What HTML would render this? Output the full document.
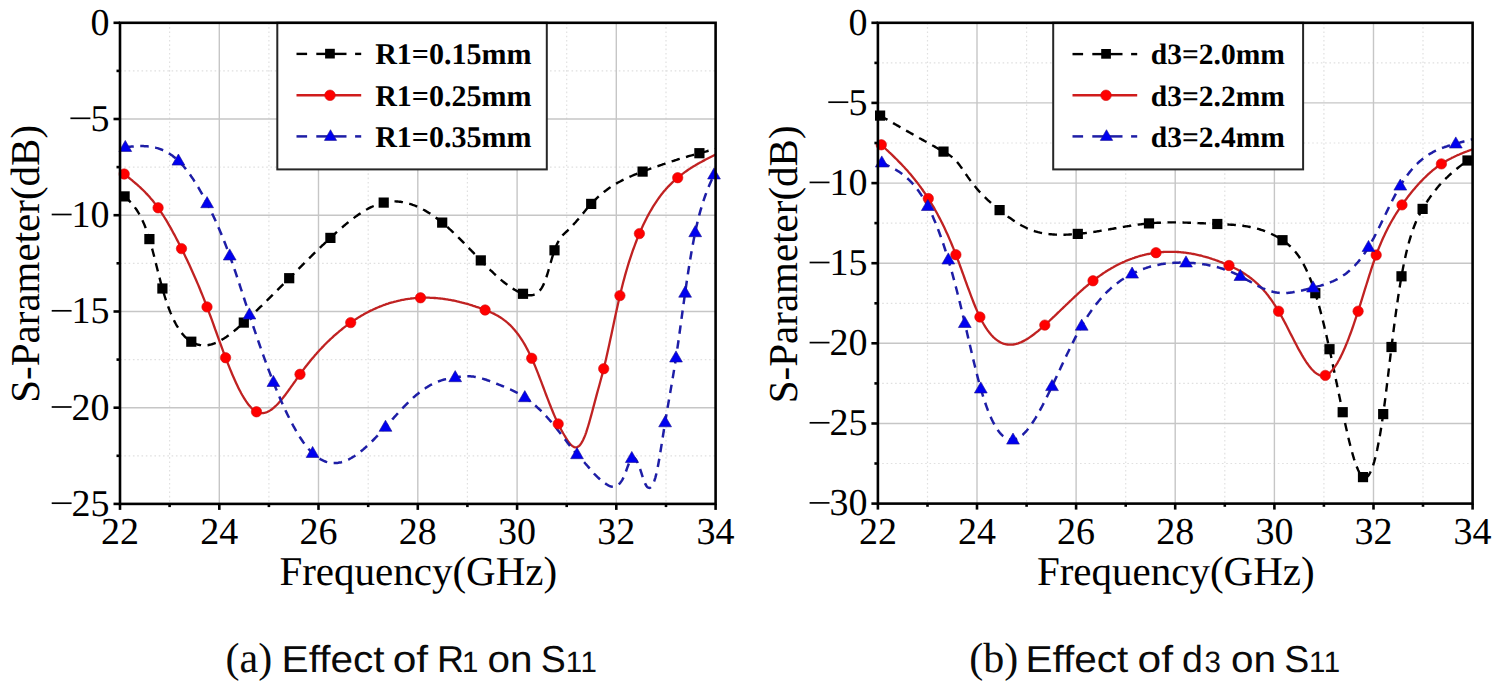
<!DOCTYPE html>
<html><head><meta charset="utf-8"><title>S11 parametric study</title>
<style>
html,body{margin:0;padding:0;background:#fff;}
body{width:1499px;height:691px;overflow:hidden;}
svg{display:block;}
.mg{stroke:#e0e0e0;stroke-width:1.2;stroke-dasharray:1.6 2.7;}
.Mg{stroke:#c6c6c6;stroke-width:1.4;}
.tk{stroke:#000;stroke-width:2.6;}
.mn{stroke:#000;stroke-width:1.7;}
.ck{fill:none;stroke:#000;stroke-width:2.4;stroke-dasharray:8.5 6.5;}
.cr2{fill:none;stroke:#c02222;stroke-width:2.3;}
.cb{fill:none;stroke:#1e1ea6;stroke-width:2.5;stroke-dasharray:8.5 6.5;}
.lk{stroke:#000;stroke-width:2.4;}
.lr{stroke:#d01c1c;stroke-width:2.4;}
.lb{stroke:#1e1ea6;stroke-width:2.5;}
text{font-family:"Liberation Serif",serif;fill:#000;text-rendering:geometricPrecision;}
.tl{font-size:38px;}
.at{font-size:41px;}
.lg{font-size:30px;font-weight:bold;}
.cap{font-family:"Liberation Sans",sans-serif;font-size:37.5px;letter-spacing:0.9px;fill:#0a0a0a;}
.cs{font-size:42px;fill:#0a0a0a;}
.sub{font-family:"Liberation Sans",sans-serif;font-size:29.5px;fill:#0a0a0a;}
.sub2{letter-spacing:0.6px;}
</style></head>
<body>
<svg width="1499" height="691" viewBox="0 0 1499 691">
<rect width="1499" height="691" fill="#fff"/>
<defs>
<clipPath id="cl"><rect x="120.0" y="22.8" width="595.6" height="481.1"/></clipPath>
<clipPath id="cr"><rect x="877.9" y="22.8" width="594.7" height="480.8"/></clipPath>
</defs>
<line x1="169.6" y1="22.8" x2="169.6" y2="503.9" class="mg"/>
<line x1="268.9" y1="22.8" x2="268.9" y2="503.9" class="mg"/>
<line x1="368.2" y1="22.8" x2="368.2" y2="503.9" class="mg"/>
<line x1="467.4" y1="22.8" x2="467.4" y2="503.9" class="mg"/>
<line x1="566.7" y1="22.8" x2="566.7" y2="503.9" class="mg"/>
<line x1="666.0" y1="22.8" x2="666.0" y2="503.9" class="mg"/>
<line x1="120.0" y1="70.9" x2="715.6" y2="70.9" class="mg"/>
<line x1="120.0" y1="167.1" x2="715.6" y2="167.1" class="mg"/>
<line x1="120.0" y1="263.3" x2="715.6" y2="263.3" class="mg"/>
<line x1="120.0" y1="359.6" x2="715.6" y2="359.6" class="mg"/>
<line x1="120.0" y1="455.8" x2="715.6" y2="455.8" class="mg"/>
<line x1="219.3" y1="22.8" x2="219.3" y2="503.9" class="Mg"/>
<line x1="318.5" y1="22.8" x2="318.5" y2="503.9" class="Mg"/>
<line x1="417.8" y1="22.8" x2="417.8" y2="503.9" class="Mg"/>
<line x1="517.1" y1="22.8" x2="517.1" y2="503.9" class="Mg"/>
<line x1="616.3" y1="22.8" x2="616.3" y2="503.9" class="Mg"/>
<line x1="120.0" y1="119.0" x2="715.6" y2="119.0" class="Mg"/>
<line x1="120.0" y1="215.2" x2="715.6" y2="215.2" class="Mg"/>
<line x1="120.0" y1="311.5" x2="715.6" y2="311.5" class="Mg"/>
<line x1="120.0" y1="407.7" x2="715.6" y2="407.7" class="Mg"/>
<line x1="927.5" y1="22.8" x2="927.5" y2="503.6" class="mg"/>
<line x1="1026.6" y1="22.8" x2="1026.6" y2="503.6" class="mg"/>
<line x1="1125.7" y1="22.8" x2="1125.7" y2="503.6" class="mg"/>
<line x1="1224.8" y1="22.8" x2="1224.8" y2="503.6" class="mg"/>
<line x1="1323.9" y1="22.8" x2="1323.9" y2="503.6" class="mg"/>
<line x1="1423.0" y1="22.8" x2="1423.0" y2="503.6" class="mg"/>
<line x1="877.9" y1="62.9" x2="1472.6" y2="62.9" class="mg"/>
<line x1="877.9" y1="143.0" x2="1472.6" y2="143.0" class="mg"/>
<line x1="877.9" y1="223.1" x2="1472.6" y2="223.1" class="mg"/>
<line x1="877.9" y1="303.3" x2="1472.6" y2="303.3" class="mg"/>
<line x1="877.9" y1="383.4" x2="1472.6" y2="383.4" class="mg"/>
<line x1="877.9" y1="463.5" x2="1472.6" y2="463.5" class="mg"/>
<line x1="977.0" y1="22.8" x2="977.0" y2="503.6" class="Mg"/>
<line x1="1076.1" y1="22.8" x2="1076.1" y2="503.6" class="Mg"/>
<line x1="1175.2" y1="22.8" x2="1175.2" y2="503.6" class="Mg"/>
<line x1="1274.4" y1="22.8" x2="1274.4" y2="503.6" class="Mg"/>
<line x1="1373.5" y1="22.8" x2="1373.5" y2="503.6" class="Mg"/>
<line x1="877.9" y1="102.9" x2="1472.6" y2="102.9" class="Mg"/>
<line x1="877.9" y1="183.1" x2="1472.6" y2="183.1" class="Mg"/>
<line x1="877.9" y1="263.2" x2="1472.6" y2="263.2" class="Mg"/>
<line x1="877.9" y1="343.3" x2="1472.6" y2="343.3" class="Mg"/>
<line x1="877.9" y1="423.5" x2="1472.6" y2="423.5" class="Mg"/>
<rect x="277.3" y="22.8" width="269.49999999999994" height="146.6" fill="#fff" stroke="#262626" stroke-width="2"/>
<line x1="296.5" y1="53.9" x2="307.1" y2="53.9" class="lk"/>
<line x1="316.3" y1="53.9" x2="346.5" y2="53.9" class="lk"/>
<line x1="355.1" y1="53.9" x2="361.2" y2="53.9" class="lk"/>
<rect x="325.1" y="48.8" width="9.7" height="9.7" fill="#000"/>
<line x1="296.5" y1="95.3" x2="361.2" y2="95.3" class="lr"/>
<circle cx="330.0" cy="95.3" r="5.3" fill="#f00" stroke="#d01010" stroke-width="0.6"/>
<line x1="296.5" y1="136.4" x2="307.1" y2="136.4" class="lb"/>
<line x1="316.3" y1="136.4" x2="346.5" y2="136.4" class="lb"/>
<line x1="355.1" y1="136.4" x2="361.2" y2="136.4" class="lb"/>
<path d="M330.5 129.7 L336.6 140.4 L324.4 140.4 Z" fill="#0000f0" stroke="#1a1090" stroke-width="0.6" stroke-linejoin="round"/>
<text x="375.2" y="64.2" class="lg" style="font-size:30px">R1=0.15mm</text>
<text x="375.2" y="105.6" class="lg" style="font-size:30px">R1=0.25mm</text>
<text x="375.2" y="146.7" class="lg" style="font-size:30px">R1=0.35mm</text>
<rect x="1053.2" y="22.8" width="249.89999999999986" height="146.6" fill="#fff" stroke="#262626" stroke-width="2"/>
<line x1="1072.5" y1="54.1" x2="1083.1" y2="54.1" class="lk"/>
<line x1="1092.3" y1="54.1" x2="1122.5" y2="54.1" class="lk"/>
<line x1="1131.1" y1="54.1" x2="1137.2" y2="54.1" class="lk"/>
<rect x="1101.2" y="49.0" width="9.7" height="9.7" fill="#000"/>
<line x1="1072.5" y1="95.3" x2="1137.2" y2="95.3" class="lr"/>
<circle cx="1106.0" cy="95.3" r="5.3" fill="#f00" stroke="#d01010" stroke-width="0.6"/>
<line x1="1072.5" y1="136.4" x2="1083.1" y2="136.4" class="lb"/>
<line x1="1092.3" y1="136.4" x2="1122.5" y2="136.4" class="lb"/>
<line x1="1131.1" y1="136.4" x2="1137.2" y2="136.4" class="lb"/>
<path d="M1106.5 129.7 L1112.7 140.4 L1100.3 140.4 Z" fill="#0000f0" stroke="#1a1090" stroke-width="0.6" stroke-linejoin="round"/>
<text x="1150.8" y="64.4" class="lg" style="font-size:29.5px">d3=2.0mm</text>
<text x="1150.8" y="105.6" class="lg" style="font-size:29.5px">d3=2.2mm</text>
<text x="1150.8" y="146.7" class="lg" style="font-size:29.5px">d3=2.4mm</text>
<path d="M124.6 196.4 L125.6 197.3 L126.6 198.3 L127.6 199.2 L128.6 200.2 L129.6 201.2 L130.6 202.3 L131.6 203.4 L132.6 204.5 L133.6 205.7 L134.6 207.0 L135.6 208.4 L136.6 209.8 L137.6 211.3 L138.6 213.0 L139.6 214.7 L140.6 216.6 L141.6 218.6 L142.6 220.7 L143.6 222.9 L144.6 225.3 L145.6 227.9 L146.6 230.6 L147.6 233.5 L148.6 236.5 L149.6 239.8 L150.6 243.2 L151.6 246.8 L152.6 250.5 L153.6 254.3 L154.6 258.2 L155.6 262.2 L156.6 266.2 L157.6 270.2 L158.6 274.1 L159.6 278.0 L160.6 281.9 L161.6 285.6 L162.6 289.2 L163.6 292.7 L164.6 296.0 L165.6 299.1 L166.6 302.1 L167.6 305.0 L168.6 307.8 L169.6 310.4 L170.6 312.9 L171.6 315.2 L172.6 317.5 L173.6 319.6 L174.6 321.6 L175.6 323.5 L176.6 325.3 L177.6 327.0 L178.6 328.6 L179.6 330.1 L180.6 331.5 L181.6 332.9 L182.6 334.1 L183.6 335.2 L184.6 336.3 L185.6 337.3 L186.6 338.2 L187.6 339.1 L188.6 339.9 L189.6 340.6 L190.6 341.3 L191.6 341.9 L192.6 342.4 L193.6 342.9 L194.6 343.4 L195.6 343.8 L196.6 344.2 L197.6 344.5 L198.6 344.7 L199.6 345.0 L200.6 345.1 L201.6 345.3 L202.6 345.3 L203.6 345.4 L204.6 345.4 L205.6 345.4 L206.6 345.3 L207.6 345.2 L208.6 345.0 L209.6 344.8 L210.6 344.6 L211.6 344.3 L212.6 344.0 L213.6 343.7 L214.6 343.3 L215.6 342.9 L216.6 342.5 L217.6 342.0 L218.6 341.6 L219.6 341.0 L220.6 340.5 L221.6 339.9 L222.6 339.3 L223.6 338.7 L224.6 338.1 L225.6 337.4 L226.6 336.8 L227.6 336.1 L228.6 335.3 L229.6 334.6 L230.6 333.8 L231.6 333.1 L232.6 332.3 L233.6 331.5 L234.6 330.6 L235.6 329.8 L236.6 329.0 L237.6 328.1 L238.6 327.2 L239.6 326.4 L240.6 325.5 L241.6 324.6 L242.6 323.7 L243.6 322.8 L244.6 321.9 L245.6 321.0 L246.6 320.0 L247.6 319.1 L248.6 318.2 L249.6 317.3 L250.6 316.3 L251.6 315.4 L252.6 314.4 L253.6 313.5 L254.6 312.5 L255.6 311.6 L256.6 310.6 L257.6 309.7 L258.6 308.7 L259.6 307.7 L260.6 306.7 L261.6 305.8 L262.6 304.8 L263.6 303.8 L264.6 302.8 L265.6 301.9 L266.6 300.9 L267.6 299.9 L268.6 298.9 L269.6 297.9 L270.6 296.9 L271.6 295.9 L272.6 294.9 L273.6 293.9 L274.6 292.9 L275.6 291.9 L276.6 290.9 L277.6 289.9 L278.6 288.9 L279.6 287.9 L280.6 286.9 L281.6 285.9 L282.6 284.9 L283.6 283.8 L284.6 282.8 L285.6 281.8 L286.6 280.8 L287.6 279.8 L288.6 278.8 L289.6 277.8 L290.6 276.8 L291.6 275.8 L292.6 274.8 L293.6 273.8 L294.6 272.8 L295.6 271.8 L296.6 270.8 L297.6 269.8 L298.6 268.8 L299.6 267.8 L300.6 266.8 L301.6 265.8 L302.6 264.8 L303.6 263.8 L304.6 262.8 L305.6 261.8 L306.6 260.8 L307.6 259.8 L308.6 258.8 L309.6 257.8 L310.6 256.8 L311.6 255.9 L312.6 254.9 L313.6 253.9 L314.6 252.9 L315.6 252.0 L316.6 251.0 L317.6 250.0 L318.6 249.1 L319.6 248.1 L320.6 247.1 L321.6 246.2 L322.6 245.2 L323.6 244.3 L324.6 243.3 L325.6 242.4 L326.6 241.4 L327.6 240.5 L328.6 239.6 L329.6 238.6 L330.6 237.7 L331.6 236.8 L332.6 235.9 L333.6 235.0 L334.6 234.0 L335.6 233.1 L336.6 232.2 L337.6 231.3 L338.6 230.5 L339.6 229.6 L340.6 228.7 L341.6 227.8 L342.6 227.0 L343.6 226.1 L344.6 225.3 L345.6 224.4 L346.6 223.6 L347.6 222.8 L348.6 222.0 L349.6 221.2 L350.6 220.4 L351.6 219.6 L352.6 218.9 L353.6 218.1 L354.6 217.4 L355.6 216.6 L356.6 215.9 L357.6 215.2 L358.6 214.5 L359.6 213.9 L360.6 213.2 L361.6 212.5 L362.6 211.9 L363.6 211.3 L364.6 210.7 L365.6 210.1 L366.6 209.5 L367.6 209.0 L368.6 208.4 L369.6 207.9 L370.6 207.4 L371.6 206.9 L372.6 206.5 L373.6 206.0 L374.6 205.6 L375.6 205.2 L376.6 204.8 L377.6 204.4 L378.6 204.1 L379.6 203.7 L380.6 203.4 L381.6 203.1 L382.6 202.9 L383.6 202.6 L384.6 202.4 L385.6 202.2 L386.6 202.0 L387.6 201.9 L388.6 201.7 L389.6 201.6 L390.6 201.5 L391.6 201.5 L392.6 201.4 L393.6 201.4 L394.6 201.4 L395.6 201.4 L396.6 201.5 L397.6 201.5 L398.6 201.6 L399.6 201.7 L400.6 201.8 L401.6 202.0 L402.6 202.1 L403.6 202.3 L404.6 202.5 L405.6 202.7 L406.6 203.0 L407.6 203.2 L408.6 203.5 L409.6 203.8 L410.6 204.1 L411.6 204.4 L412.6 204.8 L413.6 205.1 L414.6 205.5 L415.6 205.9 L416.6 206.3 L417.6 206.8 L418.6 207.2 L419.6 207.7 L420.6 208.2 L421.6 208.7 L422.6 209.2 L423.6 209.8 L424.6 210.3 L425.6 210.9 L426.6 211.5 L427.6 212.1 L428.6 212.7 L429.6 213.3 L430.6 214.0 L431.6 214.7 L432.6 215.3 L433.6 216.0 L434.6 216.7 L435.6 217.5 L436.6 218.2 L437.6 219.0 L438.6 219.7 L439.6 220.5 L440.6 221.3 L441.6 222.1 L442.6 222.9 L443.6 223.8 L444.6 224.6 L445.6 225.5 L446.6 226.3 L447.6 227.2 L448.6 228.1 L449.6 229.0 L450.6 230.0 L451.6 230.9 L452.6 231.8 L453.6 232.8 L454.6 233.7 L455.6 234.7 L456.6 235.6 L457.6 236.6 L458.6 237.6 L459.6 238.6 L460.6 239.6 L461.6 240.6 L462.6 241.6 L463.6 242.6 L464.6 243.6 L465.6 244.7 L466.6 245.7 L467.6 246.7 L468.6 247.7 L469.6 248.8 L470.6 249.8 L471.6 250.9 L472.6 251.9 L473.6 252.9 L474.6 254.0 L475.6 255.0 L476.6 256.1 L477.6 257.1 L478.6 258.1 L479.6 259.2 L480.6 260.2 L481.6 261.2 L482.6 262.3 L483.6 263.3 L484.6 264.3 L485.6 265.3 L486.6 266.3 L487.6 267.3 L488.6 268.3 L489.6 269.3 L490.6 270.3 L491.6 271.2 L492.6 272.2 L493.6 273.2 L494.6 274.1 L495.6 275.0 L496.6 275.9 L497.6 276.8 L498.6 277.7 L499.6 278.6 L500.6 279.5 L501.6 280.3 L502.6 281.2 L503.6 282.0 L504.6 282.8 L505.6 283.6 L506.6 284.3 L507.6 285.1 L508.6 285.8 L509.6 286.5 L510.6 287.2 L511.6 287.9 L512.6 288.5 L513.6 289.1 L514.6 289.7 L515.6 290.3 L516.6 290.9 L517.6 291.4 L518.6 291.9 L519.6 292.4 L520.6 292.8 L521.6 293.3 L522.6 293.6 L523.6 294.0 L524.6 294.4 L525.6 294.6 L526.6 294.9 L527.6 295.1 L528.6 295.2 L529.6 295.3 L530.6 295.3 L531.6 295.2 L532.6 295.1 L533.6 294.8 L534.6 294.5 L535.6 294.0 L536.6 293.4 L537.6 292.7 L538.6 291.9 L539.6 290.8 L540.6 289.6 L541.6 288.1 L542.6 286.4 L543.6 284.4 L544.6 282.1 L545.6 279.5 L546.6 276.5 L547.6 273.3 L548.6 270.0 L549.6 266.5 L550.6 263.0 L551.6 259.5 L552.6 256.2 L553.6 253.0 L554.6 250.0 L555.6 247.4 L556.6 245.0 L557.6 242.9 L558.6 241.1 L559.6 239.4 L560.6 237.9 L561.6 236.6 L562.6 235.4 L563.6 234.3 L564.6 233.3 L565.6 232.4 L566.6 231.5 L567.6 230.6 L568.6 229.6 L569.6 228.6 L570.6 227.6 L571.6 226.6 L572.6 225.5 L573.6 224.4 L574.6 223.3 L575.6 222.2 L576.6 221.0 L577.6 219.9 L578.6 218.7 L579.6 217.5 L580.6 216.3 L581.6 215.1 L582.6 213.9 L583.6 212.7 L584.6 211.5 L585.6 210.3 L586.6 209.1 L587.6 207.9 L588.6 206.8 L589.6 205.7 L590.6 204.6 L591.6 203.5 L592.6 202.4 L593.6 201.4 L594.6 200.4 L595.6 199.4 L596.6 198.4 L597.6 197.5 L598.6 196.5 L599.6 195.7 L600.6 194.8 L601.6 193.9 L602.6 193.1 L603.6 192.3 L604.6 191.5 L605.6 190.7 L606.6 190.0 L607.6 189.2 L608.6 188.5 L609.6 187.8 L610.6 187.1 L611.6 186.5 L612.6 185.8 L613.6 185.2 L614.6 184.6 L615.6 184.0 L616.6 183.4 L617.6 182.8 L618.6 182.2 L619.6 181.7 L620.6 181.2 L621.6 180.6 L622.6 180.1 L623.6 179.6 L624.6 179.1 L625.6 178.7 L626.6 178.2 L627.6 177.7 L628.6 177.3 L629.6 176.8 L630.6 176.4 L631.6 176.0 L632.6 175.5 L633.6 175.1 L634.6 174.7 L635.6 174.3 L636.6 173.9 L637.6 173.5 L638.6 173.1 L639.6 172.7 L640.6 172.4 L641.6 172.0 L642.6 171.6 L643.6 171.2 L644.6 170.8 L645.6 170.5 L646.6 170.1 L647.6 169.7 L648.6 169.4 L649.6 169.0 L650.6 168.6 L651.6 168.3 L652.6 167.9 L653.6 167.6 L654.6 167.2 L655.6 166.9 L656.6 166.5 L657.6 166.2 L658.6 165.8 L659.6 165.5 L660.6 165.1 L661.6 164.8 L662.6 164.4 L663.6 164.1 L664.6 163.8 L665.6 163.4 L666.6 163.1 L667.6 162.8 L668.6 162.4 L669.6 162.1 L670.6 161.8 L671.6 161.4 L672.6 161.1 L673.6 160.8 L674.6 160.5 L675.6 160.2 L676.6 159.9 L677.6 159.5 L678.6 159.2 L679.6 158.9 L680.6 158.6 L681.6 158.3 L682.6 158.0 L683.6 157.7 L684.6 157.4 L685.6 157.1 L686.6 156.8 L687.6 156.5 L688.6 156.2 L689.6 155.9 L690.6 155.6 L691.6 155.4 L692.6 155.1 L693.6 154.8 L694.6 154.5 L695.6 154.2 L696.6 154.0 L697.6 153.7 L698.6 153.4 L699.6 153.1 L700.6 152.9 L701.6 152.6 L702.6 152.3 L703.6 152.1 L704.6 151.8 L705.6 151.6 L706.6 151.3 L707.6 151.0 L708.6 150.8 L709.6 150.5 L710.6 150.3 L711.6 150.0 L712.6 149.8 L713.6 149.5 L714.6 149.3 L715.6 149.0" class="ck" clip-path="url(#cl)"/>
<path d="M124.2 174.0 L125.2 174.8 L126.2 175.6 L127.2 176.4 L128.2 177.2 L129.2 178.0 L130.2 178.8 L131.2 179.6 L132.2 180.4 L133.2 181.3 L134.2 182.1 L135.2 183.0 L136.2 183.8 L137.2 184.7 L138.2 185.6 L139.2 186.5 L140.2 187.4 L141.2 188.4 L142.2 189.3 L143.2 190.3 L144.2 191.3 L145.2 192.3 L146.2 193.4 L147.2 194.4 L148.2 195.5 L149.2 196.6 L150.2 197.8 L151.2 198.9 L152.2 200.1 L153.2 201.3 L154.2 202.6 L155.2 203.9 L156.2 205.2 L157.2 206.6 L158.2 207.9 L159.2 209.4 L160.2 210.8 L161.2 212.3 L162.2 213.8 L163.2 215.4 L164.2 217.0 L165.2 218.6 L166.2 220.2 L167.2 221.9 L168.2 223.6 L169.2 225.4 L170.2 227.1 L171.2 228.9 L172.2 230.7 L173.2 232.6 L174.2 234.4 L175.2 236.3 L176.2 238.2 L177.2 240.1 L178.2 242.1 L179.2 244.0 L180.2 246.0 L181.2 248.0 L182.2 250.0 L183.2 252.0 L184.2 254.1 L185.2 256.2 L186.2 258.2 L187.2 260.3 L188.2 262.5 L189.2 264.6 L190.2 266.8 L191.2 269.0 L192.2 271.2 L193.2 273.4 L194.2 275.7 L195.2 277.9 L196.2 280.2 L197.2 282.6 L198.2 284.9 L199.2 287.3 L200.2 289.7 L201.2 292.2 L202.2 294.6 L203.2 297.1 L204.2 299.7 L205.2 302.2 L206.2 304.8 L207.2 307.4 L208.2 310.1 L209.2 312.8 L210.2 315.5 L211.2 318.2 L212.2 320.9 L213.2 323.7 L214.2 326.5 L215.2 329.3 L216.2 332.0 L217.2 334.8 L218.2 337.6 L219.2 340.4 L220.2 343.1 L221.2 345.9 L222.2 348.6 L223.2 351.3 L224.2 354.0 L225.2 356.6 L226.2 359.3 L227.2 361.9 L228.2 364.4 L229.2 366.9 L230.2 369.4 L231.2 371.8 L232.2 374.2 L233.2 376.5 L234.2 378.8 L235.2 381.0 L236.2 383.2 L237.2 385.3 L238.2 387.4 L239.2 389.4 L240.2 391.3 L241.2 393.2 L242.2 395.0 L243.2 396.7 L244.2 398.3 L245.2 399.9 L246.2 401.4 L247.2 402.8 L248.2 404.2 L249.2 405.4 L250.2 406.6 L251.2 407.7 L252.2 408.7 L253.2 409.5 L254.2 410.3 L255.2 411.0 L256.2 411.6 L257.2 412.1 L258.2 412.5 L259.2 412.8 L260.2 413.0 L261.2 413.1 L262.2 413.2 L263.2 413.1 L264.2 412.9 L265.2 412.7 L266.2 412.4 L267.2 412.0 L268.2 411.5 L269.2 411.0 L270.2 410.4 L271.2 409.7 L272.2 409.0 L273.2 408.2 L274.2 407.3 L275.2 406.4 L276.2 405.5 L277.2 404.5 L278.2 403.4 L279.2 402.3 L280.2 401.2 L281.2 400.0 L282.2 398.8 L283.2 397.6 L284.2 396.3 L285.2 395.0 L286.2 393.6 L287.2 392.3 L288.2 390.9 L289.2 389.5 L290.2 388.2 L291.2 386.7 L292.2 385.3 L293.2 383.9 L294.2 382.5 L295.2 381.1 L296.2 379.6 L297.2 378.2 L298.2 376.8 L299.2 375.4 L300.2 374.0 L301.2 372.7 L302.2 371.3 L303.2 370.0 L304.2 368.6 L305.2 367.3 L306.2 366.0 L307.2 364.8 L308.2 363.5 L309.2 362.3 L310.2 361.0 L311.2 359.8 L312.2 358.6 L313.2 357.4 L314.2 356.3 L315.2 355.1 L316.2 354.0 L317.2 352.8 L318.2 351.7 L319.2 350.6 L320.2 349.5 L321.2 348.5 L322.2 347.4 L323.2 346.4 L324.2 345.3 L325.2 344.3 L326.2 343.3 L327.2 342.3 L328.2 341.3 L329.2 340.4 L330.2 339.4 L331.2 338.5 L332.2 337.6 L333.2 336.6 L334.2 335.7 L335.2 334.8 L336.2 334.0 L337.2 333.1 L338.2 332.3 L339.2 331.4 L340.2 330.6 L341.2 329.8 L342.2 329.0 L343.2 328.2 L344.2 327.4 L345.2 326.6 L346.2 325.9 L347.2 325.1 L348.2 324.4 L349.2 323.7 L350.2 323.0 L351.2 322.3 L352.2 321.6 L353.2 320.9 L354.2 320.2 L355.2 319.6 L356.2 318.9 L357.2 318.3 L358.2 317.6 L359.2 317.0 L360.2 316.4 L361.2 315.8 L362.2 315.2 L363.2 314.7 L364.2 314.1 L365.2 313.5 L366.2 313.0 L367.2 312.5 L368.2 311.9 L369.2 311.4 L370.2 310.9 L371.2 310.4 L372.2 310.0 L373.2 309.5 L374.2 309.0 L375.2 308.6 L376.2 308.1 L377.2 307.7 L378.2 307.3 L379.2 306.9 L380.2 306.4 L381.2 306.1 L382.2 305.7 L383.2 305.3 L384.2 304.9 L385.2 304.6 L386.2 304.2 L387.2 303.9 L388.2 303.6 L389.2 303.2 L390.2 302.9 L391.2 302.6 L392.2 302.3 L393.2 302.1 L394.2 301.8 L395.2 301.5 L396.2 301.3 L397.2 301.0 L398.2 300.8 L399.2 300.6 L400.2 300.4 L401.2 300.1 L402.2 299.9 L403.2 299.8 L404.2 299.6 L405.2 299.4 L406.2 299.2 L407.2 299.1 L408.2 298.9 L409.2 298.8 L410.2 298.7 L411.2 298.5 L412.2 298.4 L413.2 298.3 L414.2 298.2 L415.2 298.1 L416.2 298.1 L417.2 298.0 L418.2 297.9 L419.2 297.9 L420.2 297.8 L421.2 297.8 L422.2 297.7 L423.2 297.7 L424.2 297.7 L425.2 297.7 L426.2 297.7 L427.2 297.7 L428.2 297.7 L429.2 297.7 L430.2 297.8 L431.2 297.8 L432.2 297.9 L433.2 297.9 L434.2 298.0 L435.2 298.0 L436.2 298.1 L437.2 298.2 L438.2 298.3 L439.2 298.4 L440.2 298.5 L441.2 298.6 L442.2 298.7 L443.2 298.9 L444.2 299.0 L445.2 299.1 L446.2 299.3 L447.2 299.4 L448.2 299.6 L449.2 299.8 L450.2 299.9 L451.2 300.1 L452.2 300.3 L453.2 300.5 L454.2 300.7 L455.2 300.9 L456.2 301.1 L457.2 301.4 L458.2 301.6 L459.2 301.8 L460.2 302.1 L461.2 302.3 L462.2 302.6 L463.2 302.8 L464.2 303.1 L465.2 303.4 L466.2 303.6 L467.2 303.9 L468.2 304.2 L469.2 304.5 L470.2 304.8 L471.2 305.1 L472.2 305.4 L473.2 305.8 L474.2 306.1 L475.2 306.4 L476.2 306.8 L477.2 307.1 L478.2 307.4 L479.2 307.8 L480.2 308.2 L481.2 308.5 L482.2 308.9 L483.2 309.3 L484.2 309.7 L485.2 310.0 L486.2 310.4 L487.2 310.8 L488.2 311.2 L489.2 311.7 L490.2 312.1 L491.2 312.5 L492.2 313.0 L493.2 313.4 L494.2 313.9 L495.2 314.4 L496.2 315.0 L497.2 315.5 L498.2 316.1 L499.2 316.7 L500.2 317.3 L501.2 317.9 L502.2 318.6 L503.2 319.3 L504.2 320.1 L505.2 320.8 L506.2 321.6 L507.2 322.5 L508.2 323.4 L509.2 324.3 L510.2 325.2 L511.2 326.2 L512.2 327.3 L513.2 328.4 L514.2 329.5 L515.2 330.7 L516.2 331.9 L517.2 333.2 L518.2 334.5 L519.2 335.9 L520.2 337.3 L521.2 338.8 L522.2 340.4 L523.2 342.0 L524.2 343.7 L525.2 345.4 L526.2 347.2 L527.2 349.1 L528.2 351.0 L529.2 353.0 L530.2 355.1 L531.2 357.2 L532.2 359.4 L533.2 361.7 L534.2 364.0 L535.2 366.4 L536.2 368.9 L537.2 371.4 L538.2 373.9 L539.2 376.5 L540.2 379.1 L541.2 381.7 L542.2 384.4 L543.2 387.0 L544.2 389.7 L545.2 392.3 L546.2 395.0 L547.2 397.6 L548.2 400.2 L549.2 402.8 L550.2 405.3 L551.2 407.9 L552.2 410.3 L553.2 412.7 L554.2 415.1 L555.2 417.4 L556.2 419.7 L557.2 421.8 L558.2 423.9 L559.2 425.9 L560.2 427.8 L561.2 429.7 L562.2 431.5 L563.2 433.3 L564.2 435.0 L565.2 436.7 L566.2 438.3 L567.2 439.9 L568.2 441.4 L569.2 442.7 L570.2 443.9 L571.2 445.0 L572.2 445.9 L573.2 446.6 L574.2 447.1 L575.2 447.4 L576.2 447.4 L577.2 447.1 L578.2 446.6 L579.2 445.8 L580.2 444.7 L581.2 443.4 L582.2 441.7 L583.2 439.8 L584.2 437.6 L585.2 435.1 L586.2 432.3 L587.2 429.2 L588.2 426.0 L589.2 422.6 L590.2 419.0 L591.2 415.4 L592.2 411.7 L593.2 407.9 L594.2 404.1 L595.2 400.4 L596.2 396.6 L597.2 392.9 L598.2 389.3 L599.2 385.7 L600.2 382.0 L601.2 378.3 L602.2 374.6 L603.2 370.7 L604.2 366.7 L605.2 362.5 L606.2 358.2 L607.2 353.8 L608.2 349.3 L609.2 344.7 L610.2 340.1 L611.2 335.4 L612.2 330.7 L613.2 326.0 L614.2 321.3 L615.2 316.6 L616.2 312.0 L617.2 307.4 L618.2 303.0 L619.2 298.6 L620.2 294.3 L621.2 290.2 L622.2 286.2 L623.2 282.3 L624.2 278.6 L625.2 274.9 L626.2 271.4 L627.2 268.0 L628.2 264.7 L629.2 261.4 L630.2 258.3 L631.2 255.3 L632.2 252.4 L633.2 249.5 L634.2 246.8 L635.2 244.1 L636.2 241.5 L637.2 238.9 L638.2 236.5 L639.2 234.1 L640.2 231.7 L641.2 229.5 L642.2 227.2 L643.2 225.1 L644.2 223.0 L645.2 220.9 L646.2 218.9 L647.2 217.0 L648.2 215.1 L649.2 213.3 L650.2 211.5 L651.2 209.8 L652.2 208.1 L653.2 206.4 L654.2 204.8 L655.2 203.3 L656.2 201.8 L657.2 200.3 L658.2 198.9 L659.2 197.5 L660.2 196.1 L661.2 194.8 L662.2 193.6 L663.2 192.3 L664.2 191.1 L665.2 190.0 L666.2 188.8 L667.2 187.7 L668.2 186.6 L669.2 185.6 L670.2 184.6 L671.2 183.6 L672.2 182.6 L673.2 181.7 L674.2 180.8 L675.2 179.9 L676.2 179.0 L677.2 178.1 L678.2 177.3 L679.2 176.5 L680.2 175.7 L681.2 174.9 L682.2 174.1 L683.2 173.4 L684.2 172.6 L685.2 171.9 L686.2 171.2 L687.2 170.5 L688.2 169.8 L689.2 169.1 L690.2 168.5 L691.2 167.8 L692.2 167.2 L693.2 166.6 L694.2 166.0 L695.2 165.4 L696.2 164.8 L697.2 164.2 L698.2 163.6 L699.2 163.1 L700.2 162.5 L701.2 162.0 L702.2 161.4 L703.2 160.9 L704.2 160.4 L705.2 159.8 L706.2 159.3 L707.2 158.8 L708.2 158.3 L709.2 157.8 L710.2 157.3 L711.2 156.8 L712.2 156.3 L713.2 155.8 L714.2 155.3 L715.2 154.8 L715.6 154.6" class="cr2" clip-path="url(#cl)"/>
<path d="M125.3 147.2 L126.3 147.1 L127.3 147.0 L128.3 146.9 L129.3 146.8 L130.3 146.7 L131.3 146.6 L132.3 146.5 L133.3 146.5 L134.3 146.4 L135.3 146.3 L136.3 146.3 L137.3 146.2 L138.3 146.2 L139.3 146.1 L140.3 146.1 L141.3 146.1 L142.3 146.1 L143.3 146.1 L144.3 146.2 L145.3 146.2 L146.3 146.3 L147.3 146.3 L148.3 146.4 L149.3 146.5 L150.3 146.7 L151.3 146.8 L152.3 147.0 L153.3 147.2 L154.3 147.4 L155.3 147.6 L156.3 147.9 L157.3 148.1 L158.3 148.4 L159.3 148.8 L160.3 149.1 L161.3 149.5 L162.3 149.9 L163.3 150.3 L164.3 150.8 L165.3 151.3 L166.3 151.8 L167.3 152.4 L168.3 152.9 L169.3 153.6 L170.3 154.2 L171.3 154.9 L172.3 155.6 L173.3 156.4 L174.3 157.2 L175.3 158.0 L176.3 158.9 L177.3 159.8 L178.3 160.7 L179.3 161.7 L180.3 162.7 L181.3 163.8 L182.3 164.9 L183.3 166.0 L184.3 167.2 L185.3 168.4 L186.3 169.7 L187.3 171.0 L188.3 172.3 L189.3 173.6 L190.3 175.0 L191.3 176.5 L192.3 177.9 L193.3 179.4 L194.3 181.0 L195.3 182.5 L196.3 184.1 L197.3 185.8 L198.3 187.4 L199.3 189.1 L200.3 190.9 L201.3 192.6 L202.3 194.4 L203.3 196.2 L204.3 198.1 L205.3 200.0 L206.3 201.9 L207.3 203.8 L208.3 205.7 L209.3 207.7 L210.3 209.8 L211.3 211.8 L212.3 213.9 L213.3 216.0 L214.3 218.1 L215.3 220.3 L216.3 222.5 L217.3 224.8 L218.3 227.0 L219.3 229.3 L220.3 231.7 L221.3 234.1 L222.3 236.5 L223.3 239.0 L224.3 241.5 L225.3 244.0 L226.3 246.6 L227.3 249.2 L228.3 251.9 L229.3 254.6 L230.3 257.4 L231.3 260.2 L232.3 263.0 L233.3 265.9 L234.3 268.8 L235.3 271.7 L236.3 274.7 L237.3 277.7 L238.3 280.7 L239.3 283.7 L240.3 286.8 L241.3 289.8 L242.3 292.9 L243.3 296.0 L244.3 299.0 L245.3 302.1 L246.3 305.2 L247.3 308.3 L248.3 311.3 L249.3 314.4 L250.3 317.4 L251.3 320.5 L252.3 323.5 L253.3 326.5 L254.3 329.4 L255.3 332.4 L256.3 335.3 L257.3 338.3 L258.3 341.2 L259.3 344.0 L260.3 346.9 L261.3 349.7 L262.3 352.6 L263.3 355.4 L264.3 358.1 L265.3 360.9 L266.3 363.6 L267.3 366.3 L268.3 369.0 L269.3 371.6 L270.3 374.2 L271.3 376.8 L272.3 379.4 L273.3 381.9 L274.3 384.5 L275.3 386.9 L276.3 389.4 L277.3 391.8 L278.3 394.2 L279.3 396.6 L280.3 398.9 L281.3 401.2 L282.3 403.4 L283.3 405.6 L284.3 407.8 L285.3 410.0 L286.3 412.1 L287.3 414.2 L288.3 416.2 L289.3 418.2 L290.3 420.2 L291.3 422.2 L292.3 424.0 L293.3 425.9 L294.3 427.7 L295.3 429.5 L296.3 431.2 L297.3 432.9 L298.3 434.6 L299.3 436.2 L300.3 437.7 L301.3 439.2 L302.3 440.7 L303.3 442.2 L304.3 443.5 L305.3 444.9 L306.3 446.2 L307.3 447.4 L308.3 448.6 L309.3 449.8 L310.3 450.9 L311.3 451.9 L312.3 452.9 L313.3 453.9 L314.3 454.8 L315.3 455.6 L316.3 456.4 L317.3 457.2 L318.3 457.9 L319.3 458.5 L320.3 459.1 L321.3 459.7 L322.3 460.2 L323.3 460.7 L324.3 461.1 L325.3 461.5 L326.3 461.9 L327.3 462.2 L328.3 462.4 L329.3 462.6 L330.3 462.8 L331.3 462.9 L332.3 463.0 L333.3 463.1 L334.3 463.1 L335.3 463.1 L336.3 463.0 L337.3 462.9 L338.3 462.8 L339.3 462.6 L340.3 462.4 L341.3 462.2 L342.3 461.9 L343.3 461.6 L344.3 461.2 L345.3 460.9 L346.3 460.5 L347.3 460.0 L348.3 459.6 L349.3 459.1 L350.3 458.5 L351.3 458.0 L352.3 457.4 L353.3 456.8 L354.3 456.2 L355.3 455.5 L356.3 454.8 L357.3 454.1 L358.3 453.4 L359.3 452.6 L360.3 451.8 L361.3 451.0 L362.3 450.2 L363.3 449.4 L364.3 448.5 L365.3 447.6 L366.3 446.7 L367.3 445.8 L368.3 444.9 L369.3 443.9 L370.3 443.0 L371.3 442.0 L372.3 441.0 L373.3 440.0 L374.3 439.0 L375.3 438.0 L376.3 436.9 L377.3 435.9 L378.3 434.8 L379.3 433.8 L380.3 432.7 L381.3 431.6 L382.3 430.5 L383.3 429.4 L384.3 428.3 L385.3 427.2 L386.3 426.1 L387.3 425.0 L388.3 423.9 L389.3 422.8 L390.3 421.7 L391.3 420.5 L392.3 419.4 L393.3 418.3 L394.3 417.2 L395.3 416.1 L396.3 415.0 L397.3 413.9 L398.3 412.8 L399.3 411.7 L400.3 410.6 L401.3 409.6 L402.3 408.5 L403.3 407.5 L404.3 406.4 L405.3 405.4 L406.3 404.4 L407.3 403.4 L408.3 402.4 L409.3 401.4 L410.3 400.4 L411.3 399.5 L412.3 398.6 L413.3 397.6 L414.3 396.8 L415.3 395.9 L416.3 395.0 L417.3 394.2 L418.3 393.4 L419.3 392.6 L420.3 391.8 L421.3 391.1 L422.3 390.3 L423.3 389.6 L424.3 388.9 L425.3 388.3 L426.3 387.6 L427.3 387.0 L428.3 386.4 L429.3 385.8 L430.3 385.2 L431.3 384.7 L432.3 384.2 L433.3 383.7 L434.3 383.2 L435.3 382.7 L436.3 382.3 L437.3 381.9 L438.3 381.5 L439.3 381.1 L440.3 380.8 L441.3 380.4 L442.3 380.1 L443.3 379.8 L444.3 379.6 L445.3 379.3 L446.3 379.1 L447.3 378.8 L448.3 378.6 L449.3 378.4 L450.3 378.2 L451.3 378.0 L452.3 377.9 L453.3 377.7 L454.3 377.5 L455.3 377.4 L456.3 377.2 L457.3 377.1 L458.3 377.0 L459.3 376.8 L460.3 376.7 L461.3 376.6 L462.3 376.5 L463.3 376.4 L464.3 376.3 L465.3 376.3 L466.3 376.2 L467.3 376.2 L468.3 376.2 L469.3 376.3 L470.3 376.3 L471.3 376.4 L472.3 376.5 L473.3 376.6 L474.3 376.8 L475.3 376.9 L476.3 377.1 L477.3 377.3 L478.3 377.5 L479.3 377.8 L480.3 378.0 L481.3 378.3 L482.3 378.6 L483.3 378.9 L484.3 379.2 L485.3 379.5 L486.3 379.8 L487.3 380.2 L488.3 380.5 L489.3 380.9 L490.3 381.3 L491.3 381.6 L492.3 382.0 L493.3 382.4 L494.3 382.8 L495.3 383.2 L496.3 383.6 L497.3 384.0 L498.3 384.4 L499.3 384.8 L500.3 385.2 L501.3 385.6 L502.3 386.0 L503.3 386.4 L504.3 386.8 L505.3 387.2 L506.3 387.6 L507.3 388.1 L508.3 388.5 L509.3 389.0 L510.3 389.4 L511.3 389.9 L512.3 390.3 L513.3 390.8 L514.3 391.3 L515.3 391.8 L516.3 392.3 L517.3 392.9 L518.3 393.4 L519.3 394.0 L520.3 394.6 L521.3 395.2 L522.3 395.8 L523.3 396.4 L524.3 397.1 L525.3 397.7 L526.3 398.4 L527.3 399.1 L528.3 399.9 L529.3 400.6 L530.3 401.4 L531.3 402.2 L532.3 403.0 L533.3 403.8 L534.3 404.7 L535.3 405.6 L536.3 406.4 L537.3 407.4 L538.3 408.3 L539.3 409.2 L540.3 410.2 L541.3 411.2 L542.3 412.2 L543.3 413.2 L544.3 414.2 L545.3 415.3 L546.3 416.4 L547.3 417.5 L548.3 418.6 L549.3 419.7 L550.3 420.9 L551.3 422.0 L552.3 423.2 L553.3 424.4 L554.3 425.6 L555.3 426.9 L556.3 428.1 L557.3 429.4 L558.3 430.7 L559.3 432.0 L560.3 433.3 L561.3 434.6 L562.3 435.9 L563.3 437.2 L564.3 438.5 L565.3 439.8 L566.3 441.1 L567.3 442.4 L568.3 443.7 L569.3 445.0 L570.3 446.3 L571.3 447.6 L572.3 448.8 L573.3 450.0 L574.3 451.2 L575.3 452.4 L576.3 453.6 L577.3 454.7 L578.3 455.9 L579.3 456.9 L580.3 458.0 L581.3 459.1 L582.3 460.2 L583.3 461.3 L584.3 462.3 L585.3 463.5 L586.3 464.6 L587.3 465.7 L588.3 466.9 L589.3 468.1 L590.3 469.3 L591.3 470.5 L592.3 471.6 L593.3 472.8 L594.3 473.9 L595.3 474.9 L596.3 475.9 L597.3 476.9 L598.3 477.8 L599.3 478.7 L600.3 479.6 L601.3 480.4 L602.3 481.2 L603.3 482.0 L604.3 482.7 L605.3 483.4 L606.3 484.1 L607.3 484.7 L608.3 485.3 L609.3 485.8 L610.3 486.2 L611.3 486.5 L612.3 486.7 L613.3 486.8 L614.3 486.7 L615.3 486.5 L616.3 486.2 L617.3 485.6 L618.3 484.9 L619.3 483.9 L620.3 482.8 L621.3 481.4 L622.3 479.8 L623.3 477.9 L624.3 475.7 L625.3 473.2 L626.3 470.5 L627.3 467.7 L628.3 465.0 L629.3 462.5 L630.3 460.4 L631.3 458.8 L632.3 457.8 L633.3 457.5 L634.3 457.9 L635.3 458.8 L636.3 460.2 L637.3 462.1 L638.3 464.3 L639.3 466.9 L640.3 469.7 L641.3 472.7 L642.3 475.8 L643.3 478.7 L644.3 481.5 L645.3 483.9 L646.3 485.7 L647.3 487.0 L648.3 487.7 L649.3 487.9 L650.3 487.6 L651.3 486.7 L652.3 485.3 L653.3 483.4 L654.3 480.9 L655.3 477.8 L656.3 474.0 L657.3 469.5 L658.3 464.3 L659.3 458.6 L660.3 452.6 L661.3 446.4 L662.3 440.1 L663.3 433.7 L664.3 427.5 L665.3 421.3 L666.3 415.3 L667.3 409.4 L668.3 403.6 L669.3 397.9 L670.3 392.1 L671.3 386.4 L672.3 380.6 L673.3 374.6 L674.3 368.5 L675.3 362.2 L676.3 355.7 L677.3 348.9 L678.3 342.0 L679.3 334.9 L680.3 327.6 L681.3 320.3 L682.3 313.0 L683.3 305.8 L684.3 298.6 L685.3 291.5 L686.3 284.6 L687.3 277.9 L688.3 271.4 L689.3 265.0 L690.3 258.9 L691.3 253.0 L692.3 247.4 L693.3 242.0 L694.3 236.8 L695.3 231.9 L696.3 227.3 L697.3 222.9 L698.3 218.8 L699.3 214.9 L700.3 211.2 L701.3 207.8 L702.3 204.5 L703.3 201.3 L704.3 198.4 L705.3 195.5 L706.3 192.8 L707.3 190.2 L708.3 187.8 L709.3 185.3 L710.3 183.0 L711.3 180.7 L712.3 178.5 L713.3 176.2 L714.0 174.7" class="cb" clip-path="url(#cl)"/>
<rect x="119.5" y="191.3" width="10.2" height="10.2" fill="#000"/>
<rect x="144.3" y="234.0" width="10.2" height="10.2" fill="#000"/>
<rect x="157.3" y="283.4" width="10.2" height="10.2" fill="#000"/>
<rect x="186.2" y="336.6" width="10.2" height="10.2" fill="#000"/>
<rect x="238.7" y="317.5" width="10.2" height="10.2" fill="#000"/>
<rect x="284.1" y="273.1" width="10.2" height="10.2" fill="#000"/>
<rect x="325.3" y="232.8" width="10.2" height="10.2" fill="#000"/>
<rect x="378.6" y="197.5" width="10.2" height="10.2" fill="#000"/>
<rect x="437.1" y="217.5" width="10.2" height="10.2" fill="#000"/>
<rect x="475.7" y="255.3" width="10.2" height="10.2" fill="#000"/>
<rect x="517.9" y="288.7" width="10.2" height="10.2" fill="#000"/>
<rect x="549.4" y="245.2" width="10.2" height="10.2" fill="#000"/>
<rect x="586.1" y="198.8" width="10.2" height="10.2" fill="#000"/>
<rect x="637.5" y="166.5" width="10.2" height="10.2" fill="#000"/>
<rect x="694.3" y="148.1" width="10.2" height="10.2" fill="#000"/>
<circle cx="124.2" cy="174.0" r="5.2" fill="#f00" stroke="#d01010" stroke-width="0.6"/>
<circle cx="158.1" cy="207.8" r="5.2" fill="#f00" stroke="#d01010" stroke-width="0.6"/>
<circle cx="181.5" cy="248.6" r="5.2" fill="#f00" stroke="#d01010" stroke-width="0.6"/>
<circle cx="207.0" cy="306.9" r="5.2" fill="#f00" stroke="#d01010" stroke-width="0.6"/>
<circle cx="225.6" cy="357.7" r="5.2" fill="#f00" stroke="#d01010" stroke-width="0.6"/>
<circle cx="256.5" cy="411.8" r="5.2" fill="#f00" stroke="#d01010" stroke-width="0.6"/>
<circle cx="300.0" cy="374.3" r="5.2" fill="#f00" stroke="#d01010" stroke-width="0.6"/>
<circle cx="350.7" cy="322.6" r="5.2" fill="#f00" stroke="#d01010" stroke-width="0.6"/>
<circle cx="420.5" cy="297.8" r="5.2" fill="#f00" stroke="#d01010" stroke-width="0.6"/>
<circle cx="485.1" cy="310.0" r="5.2" fill="#f00" stroke="#d01010" stroke-width="0.6"/>
<circle cx="531.7" cy="358.3" r="5.2" fill="#f00" stroke="#d01010" stroke-width="0.6"/>
<circle cx="558.2" cy="423.9" r="5.2" fill="#f00" stroke="#d01010" stroke-width="0.6"/>
<circle cx="603.7" cy="368.7" r="5.2" fill="#f00" stroke="#d01010" stroke-width="0.6"/>
<circle cx="619.9" cy="295.6" r="5.2" fill="#f00" stroke="#d01010" stroke-width="0.6"/>
<circle cx="639.4" cy="233.6" r="5.2" fill="#f00" stroke="#d01010" stroke-width="0.6"/>
<circle cx="677.7" cy="177.7" r="5.2" fill="#f00" stroke="#d01010" stroke-width="0.6"/>
<path d="M125.3 140.4 L131.7 151.5 L118.9 151.5 Z" fill="#0000f0" stroke="#1a1090" stroke-width="0.6" stroke-linejoin="round"/>
<path d="M178.4 154.0 L184.8 165.1 L172.0 165.1 Z" fill="#0000f0" stroke="#1a1090" stroke-width="0.6" stroke-linejoin="round"/>
<path d="M207.1 196.6 L213.5 207.7 L200.7 207.7 Z" fill="#0000f0" stroke="#1a1090" stroke-width="0.6" stroke-linejoin="round"/>
<path d="M229.7 248.9 L236.1 260.0 L223.3 260.0 Z" fill="#0000f0" stroke="#1a1090" stroke-width="0.6" stroke-linejoin="round"/>
<path d="M249.4 307.9 L255.8 319.0 L243.0 319.0 Z" fill="#0000f0" stroke="#1a1090" stroke-width="0.6" stroke-linejoin="round"/>
<path d="M273.4 375.4 L279.8 386.5 L267.0 386.5 Z" fill="#0000f0" stroke="#1a1090" stroke-width="0.6" stroke-linejoin="round"/>
<path d="M312.6 446.4 L319.0 457.5 L306.2 457.5 Z" fill="#0000f0" stroke="#1a1090" stroke-width="0.6" stroke-linejoin="round"/>
<path d="M385.5 420.2 L391.9 431.3 L379.1 431.3 Z" fill="#0000f0" stroke="#1a1090" stroke-width="0.6" stroke-linejoin="round"/>
<path d="M455.2 370.6 L461.6 381.7 L448.8 381.7 Z" fill="#0000f0" stroke="#1a1090" stroke-width="0.6" stroke-linejoin="round"/>
<path d="M524.8 390.6 L531.2 401.7 L518.4 401.7 Z" fill="#0000f0" stroke="#1a1090" stroke-width="0.6" stroke-linejoin="round"/>
<path d="M577.0 447.6 L583.4 458.7 L570.6 458.7 Z" fill="#0000f0" stroke="#1a1090" stroke-width="0.6" stroke-linejoin="round"/>
<path d="M631.8 451.4 L638.2 462.5 L625.4 462.5 Z" fill="#0000f0" stroke="#1a1090" stroke-width="0.6" stroke-linejoin="round"/>
<path d="M665.1 415.7 L671.5 426.8 L658.7 426.8 Z" fill="#0000f0" stroke="#1a1090" stroke-width="0.6" stroke-linejoin="round"/>
<path d="M676.0 350.9 L682.4 362.0 L669.6 362.0 Z" fill="#0000f0" stroke="#1a1090" stroke-width="0.6" stroke-linejoin="round"/>
<path d="M685.1 286.1 L691.5 297.2 L678.7 297.2 Z" fill="#0000f0" stroke="#1a1090" stroke-width="0.6" stroke-linejoin="round"/>
<path d="M695.2 225.6 L701.6 236.7 L688.8 236.7 Z" fill="#0000f0" stroke="#1a1090" stroke-width="0.6" stroke-linejoin="round"/>
<path d="M714.0 167.9 L720.4 179.0 L707.6 179.0 Z" fill="#0000f0" stroke="#1a1090" stroke-width="0.6" stroke-linejoin="round"/>
<path d="M880.1 115.6 L881.1 116.2 L882.1 116.7 L883.1 117.3 L884.1 117.9 L885.1 118.5 L886.1 119.0 L887.1 119.6 L888.1 120.2 L889.1 120.8 L890.1 121.3 L891.1 121.9 L892.1 122.5 L893.1 123.1 L894.1 123.6 L895.1 124.2 L896.1 124.8 L897.1 125.4 L898.1 125.9 L899.1 126.5 L900.1 127.1 L901.1 127.7 L902.1 128.2 L903.1 128.8 L904.1 129.4 L905.1 129.9 L906.1 130.5 L907.1 131.1 L908.1 131.6 L909.1 132.2 L910.1 132.8 L911.1 133.4 L912.1 133.9 L913.1 134.5 L914.1 135.1 L915.1 135.6 L916.1 136.2 L917.1 136.8 L918.1 137.3 L919.1 137.9 L920.1 138.5 L921.1 139.0 L922.1 139.6 L923.1 140.1 L924.1 140.7 L925.1 141.3 L926.1 141.8 L927.1 142.4 L928.1 143.0 L929.1 143.5 L930.1 144.1 L931.1 144.6 L932.1 145.2 L933.1 145.8 L934.1 146.3 L935.1 146.9 L936.1 147.5 L937.1 148.0 L938.1 148.6 L939.1 149.1 L940.1 149.7 L941.1 150.3 L942.1 150.8 L943.1 151.4 L944.1 151.9 L945.1 152.5 L946.1 153.1 L947.1 153.7 L948.1 154.3 L949.1 154.9 L950.1 155.6 L951.1 156.4 L952.1 157.1 L953.1 158.0 L954.1 158.9 L955.1 159.9 L956.1 160.9 L957.1 162.1 L958.1 163.3 L959.1 164.5 L960.1 165.9 L961.1 167.2 L962.1 168.6 L963.1 170.1 L964.1 171.5 L965.1 173.0 L966.1 174.5 L967.1 175.9 L968.1 177.4 L969.1 178.8 L970.1 180.1 L971.1 181.5 L972.1 182.8 L973.1 184.1 L974.1 185.3 L975.1 186.5 L976.1 187.7 L977.1 188.9 L978.1 190.1 L979.1 191.2 L980.1 192.3 L981.1 193.3 L982.1 194.4 L983.1 195.4 L984.1 196.4 L985.1 197.4 L986.1 198.4 L987.1 199.3 L988.1 200.3 L989.1 201.2 L990.1 202.1 L991.1 203.0 L992.1 203.9 L993.1 204.7 L994.1 205.6 L995.1 206.4 L996.1 207.3 L997.1 208.1 L998.1 208.9 L999.1 209.7 L1000.1 210.5 L1001.1 211.3 L1002.1 212.1 L1003.1 212.9 L1004.1 213.6 L1005.1 214.4 L1006.1 215.2 L1007.1 215.9 L1008.1 216.7 L1009.1 217.4 L1010.1 218.1 L1011.1 218.8 L1012.1 219.5 L1013.1 220.2 L1014.1 220.9 L1015.1 221.5 L1016.1 222.2 L1017.1 222.8 L1018.1 223.4 L1019.1 224.0 L1020.1 224.6 L1021.1 225.2 L1022.1 225.8 L1023.1 226.3 L1024.1 226.8 L1025.1 227.3 L1026.1 227.8 L1027.1 228.3 L1028.1 228.7 L1029.1 229.2 L1030.1 229.6 L1031.1 230.0 L1032.1 230.3 L1033.1 230.7 L1034.1 231.0 L1035.1 231.3 L1036.1 231.6 L1037.1 231.9 L1038.1 232.2 L1039.1 232.4 L1040.1 232.7 L1041.1 232.9 L1042.1 233.1 L1043.1 233.3 L1044.1 233.4 L1045.1 233.6 L1046.1 233.8 L1047.1 233.9 L1048.1 234.0 L1049.1 234.1 L1050.1 234.2 L1051.1 234.3 L1052.1 234.4 L1053.1 234.5 L1054.1 234.5 L1055.1 234.6 L1056.1 234.6 L1057.1 234.7 L1058.1 234.7 L1059.1 234.7 L1060.1 234.7 L1061.1 234.7 L1062.1 234.7 L1063.1 234.7 L1064.1 234.7 L1065.1 234.7 L1066.1 234.6 L1067.1 234.6 L1068.1 234.6 L1069.1 234.5 L1070.1 234.5 L1071.1 234.4 L1072.1 234.4 L1073.1 234.3 L1074.1 234.2 L1075.1 234.1 L1076.1 234.1 L1077.1 234.0 L1078.1 233.9 L1079.1 233.8 L1080.1 233.7 L1081.1 233.6 L1082.1 233.5 L1083.1 233.3 L1084.1 233.2 L1085.1 233.1 L1086.1 233.0 L1087.1 232.9 L1088.1 232.7 L1089.1 232.6 L1090.1 232.4 L1091.1 232.3 L1092.1 232.2 L1093.1 232.0 L1094.1 231.9 L1095.1 231.7 L1096.1 231.6 L1097.1 231.4 L1098.1 231.2 L1099.1 231.1 L1100.1 230.9 L1101.1 230.7 L1102.1 230.6 L1103.1 230.4 L1104.1 230.2 L1105.1 230.1 L1106.1 229.9 L1107.1 229.7 L1108.1 229.6 L1109.1 229.4 L1110.1 229.2 L1111.1 229.0 L1112.1 228.9 L1113.1 228.7 L1114.1 228.5 L1115.1 228.3 L1116.1 228.2 L1117.1 228.0 L1118.1 227.8 L1119.1 227.6 L1120.1 227.5 L1121.1 227.3 L1122.1 227.1 L1123.1 226.9 L1124.1 226.8 L1125.1 226.6 L1126.1 226.4 L1127.1 226.3 L1128.1 226.1 L1129.1 226.0 L1130.1 225.8 L1131.1 225.7 L1132.1 225.5 L1133.1 225.3 L1134.1 225.2 L1135.1 225.1 L1136.1 224.9 L1137.1 224.8 L1138.1 224.6 L1139.1 224.5 L1140.1 224.4 L1141.1 224.3 L1142.1 224.1 L1143.1 224.0 L1144.1 223.9 L1145.1 223.8 L1146.1 223.7 L1147.1 223.6 L1148.1 223.5 L1149.1 223.4 L1150.1 223.3 L1151.1 223.2 L1152.1 223.1 L1153.1 223.1 L1154.1 223.0 L1155.1 222.9 L1156.1 222.9 L1157.1 222.8 L1158.1 222.8 L1159.1 222.7 L1160.1 222.7 L1161.1 222.6 L1162.1 222.6 L1163.1 222.6 L1164.1 222.5 L1165.1 222.5 L1166.1 222.5 L1167.1 222.5 L1168.1 222.4 L1169.1 222.4 L1170.1 222.4 L1171.1 222.4 L1172.1 222.4 L1173.1 222.4 L1174.1 222.4 L1175.1 222.4 L1176.1 222.4 L1177.1 222.4 L1178.1 222.4 L1179.1 222.5 L1180.1 222.5 L1181.1 222.5 L1182.1 222.5 L1183.1 222.5 L1184.1 222.6 L1185.1 222.6 L1186.1 222.6 L1187.1 222.6 L1188.1 222.7 L1189.1 222.7 L1190.1 222.8 L1191.1 222.8 L1192.1 222.8 L1193.1 222.9 L1194.1 222.9 L1195.1 222.9 L1196.1 223.0 L1197.1 223.0 L1198.1 223.1 L1199.1 223.1 L1200.1 223.2 L1201.1 223.2 L1202.1 223.3 L1203.1 223.3 L1204.1 223.4 L1205.1 223.4 L1206.1 223.5 L1207.1 223.5 L1208.1 223.6 L1209.1 223.6 L1210.1 223.7 L1211.1 223.7 L1212.1 223.8 L1213.1 223.8 L1214.1 223.9 L1215.1 223.9 L1216.1 223.9 L1217.1 224.0 L1218.1 224.0 L1219.1 224.1 L1220.1 224.1 L1221.1 224.2 L1222.1 224.2 L1223.1 224.3 L1224.1 224.3 L1225.1 224.4 L1226.1 224.4 L1227.1 224.5 L1228.1 224.5 L1229.1 224.6 L1230.1 224.6 L1231.1 224.7 L1232.1 224.8 L1233.1 224.8 L1234.1 224.9 L1235.1 225.0 L1236.1 225.1 L1237.1 225.2 L1238.1 225.3 L1239.1 225.4 L1240.1 225.5 L1241.1 225.6 L1242.1 225.7 L1243.1 225.8 L1244.1 226.0 L1245.1 226.1 L1246.1 226.3 L1247.1 226.4 L1248.1 226.6 L1249.1 226.8 L1250.1 227.0 L1251.1 227.2 L1252.1 227.4 L1253.1 227.6 L1254.1 227.8 L1255.1 228.1 L1256.1 228.3 L1257.1 228.6 L1258.1 228.9 L1259.1 229.2 L1260.1 229.5 L1261.1 229.8 L1262.1 230.1 L1263.1 230.4 L1264.1 230.8 L1265.1 231.2 L1266.1 231.6 L1267.1 231.9 L1268.1 232.4 L1269.1 232.8 L1270.1 233.2 L1271.1 233.7 L1272.1 234.2 L1273.1 234.7 L1274.1 235.2 L1275.1 235.7 L1276.1 236.3 L1277.1 236.8 L1278.1 237.4 L1279.1 238.0 L1280.1 238.6 L1281.1 239.3 L1282.1 239.9 L1283.1 240.6 L1284.1 241.3 L1285.1 242.0 L1286.1 242.8 L1287.1 243.6 L1288.1 244.4 L1289.1 245.3 L1290.1 246.2 L1291.1 247.1 L1292.1 248.1 L1293.1 249.2 L1294.1 250.3 L1295.1 251.5 L1296.1 252.7 L1297.1 254.0 L1298.1 255.4 L1299.1 256.8 L1300.1 258.3 L1301.1 259.9 L1302.1 261.6 L1303.1 263.4 L1304.1 265.2 L1305.1 267.2 L1306.1 269.2 L1307.1 271.4 L1308.1 273.6 L1309.1 276.0 L1310.1 278.5 L1311.1 281.0 L1312.1 283.7 L1313.1 286.6 L1314.1 289.5 L1315.1 292.6 L1316.1 295.8 L1317.1 299.1 L1318.1 302.5 L1319.1 306.1 L1320.1 309.8 L1321.1 313.6 L1322.1 317.5 L1323.1 321.5 L1324.1 325.6 L1325.1 329.8 L1326.1 334.1 L1327.1 338.4 L1328.1 342.9 L1329.1 347.4 L1330.1 352.0 L1331.1 356.6 L1332.1 361.3 L1333.1 366.1 L1334.1 370.8 L1335.1 375.7 L1336.1 380.5 L1337.1 385.3 L1338.1 390.2 L1339.1 395.0 L1340.1 399.8 L1341.1 404.6 L1342.1 409.4 L1343.1 414.1 L1344.1 418.7 L1345.1 423.3 L1346.1 427.8 L1347.1 432.2 L1348.1 436.5 L1349.1 440.7 L1350.1 444.7 L1351.1 448.6 L1352.1 452.3 L1353.1 455.8 L1354.1 459.1 L1355.1 462.1 L1356.1 465.0 L1357.1 467.6 L1358.1 469.9 L1359.1 472.0 L1360.1 473.8 L1361.1 475.2 L1362.1 476.4 L1363.1 477.2 L1364.1 477.6 L1365.1 477.7 L1366.1 477.5 L1367.1 476.8 L1368.1 475.9 L1369.1 474.5 L1370.1 472.8 L1371.1 470.7 L1372.1 468.2 L1373.1 465.3 L1374.1 462.1 L1375.1 458.4 L1376.1 454.4 L1377.1 450.0 L1378.1 445.1 L1379.1 439.9 L1380.1 434.2 L1381.1 428.2 L1382.1 421.7 L1383.1 414.8 L1384.1 407.5 L1385.1 399.8 L1386.1 391.9 L1387.1 383.7 L1388.1 375.4 L1389.1 367.0 L1390.1 358.6 L1391.1 350.3 L1392.1 342.1 L1393.1 334.1 L1394.1 326.3 L1395.1 318.7 L1396.1 311.4 L1397.1 304.3 L1398.1 297.4 L1399.1 290.8 L1400.1 284.6 L1401.1 278.6 L1402.1 273.0 L1403.1 267.6 L1404.1 262.6 L1405.1 257.9 L1406.1 253.5 L1407.1 249.3 L1408.1 245.4 L1409.1 241.7 L1410.1 238.3 L1411.1 235.1 L1412.1 232.0 L1413.1 229.2 L1414.1 226.5 L1415.1 224.0 L1416.1 221.6 L1417.1 219.4 L1418.1 217.3 L1419.1 215.3 L1420.1 213.4 L1421.1 211.5 L1422.1 209.8 L1423.1 208.0 L1424.1 206.4 L1425.1 204.7 L1426.1 203.1 L1427.1 201.6 L1428.1 200.0 L1429.1 198.6 L1430.1 197.1 L1431.1 195.7 L1432.1 194.3 L1433.1 193.0 L1434.1 191.7 L1435.1 190.4 L1436.1 189.2 L1437.1 187.9 L1438.1 186.8 L1439.1 185.6 L1440.1 184.5 L1441.1 183.4 L1442.1 182.3 L1443.1 181.2 L1444.1 180.2 L1445.1 179.2 L1446.1 178.2 L1447.1 177.3 L1448.1 176.3 L1449.1 175.4 L1450.1 174.5 L1451.1 173.6 L1452.1 172.7 L1453.1 171.8 L1454.1 171.0 L1455.1 170.2 L1456.1 169.3 L1457.1 168.5 L1458.1 167.7 L1459.1 166.9 L1460.1 166.1 L1461.1 165.4 L1462.1 164.6 L1463.1 163.8 L1464.1 163.1 L1465.1 162.3 L1466.1 161.6 L1467.1 160.8 L1467.5 160.5" class="ck" clip-path="url(#cr)"/>
<path d="M881.3 144.8 L882.3 145.7 L883.3 146.7 L884.3 147.6 L885.3 148.5 L886.3 149.5 L887.3 150.4 L888.3 151.3 L889.3 152.3 L890.3 153.2 L891.3 154.2 L892.3 155.1 L893.3 156.1 L894.3 157.1 L895.3 158.1 L896.3 159.0 L897.3 160.0 L898.3 161.1 L899.3 162.1 L900.3 163.1 L901.3 164.1 L902.3 165.2 L903.3 166.3 L904.3 167.3 L905.3 168.4 L906.3 169.5 L907.3 170.6 L908.3 171.8 L909.3 172.9 L910.3 174.1 L911.3 175.3 L912.3 176.5 L913.3 177.7 L914.3 178.9 L915.3 180.2 L916.3 181.4 L917.3 182.7 L918.3 184.1 L919.3 185.4 L920.3 186.8 L921.3 188.1 L922.3 189.5 L923.3 191.0 L924.3 192.4 L925.3 193.9 L926.3 195.4 L927.3 196.9 L928.3 198.5 L929.3 200.1 L930.3 201.7 L931.3 203.3 L932.3 205.0 L933.3 206.7 L934.3 208.4 L935.3 210.2 L936.3 212.0 L937.3 213.8 L938.3 215.7 L939.3 217.6 L940.3 219.5 L941.3 221.5 L942.3 223.5 L943.3 225.5 L944.3 227.6 L945.3 229.7 L946.3 231.9 L947.3 234.1 L948.3 236.3 L949.3 238.6 L950.3 240.9 L951.3 243.3 L952.3 245.7 L953.3 248.1 L954.3 250.6 L955.3 253.2 L956.3 255.7 L957.3 258.4 L958.3 261.0 L959.3 263.7 L960.3 266.5 L961.3 269.2 L962.3 272.0 L963.3 274.7 L964.3 277.5 L965.3 280.3 L966.3 283.0 L967.3 285.8 L968.3 288.5 L969.3 291.2 L970.3 293.9 L971.3 296.6 L972.3 299.2 L973.3 301.7 L974.3 304.2 L975.3 306.7 L976.3 309.1 L977.3 311.4 L978.3 313.6 L979.3 315.7 L980.3 317.8 L981.3 319.8 L982.3 321.7 L983.3 323.5 L984.3 325.2 L985.3 326.8 L986.3 328.4 L987.3 329.9 L988.3 331.2 L989.3 332.6 L990.3 333.8 L991.3 335.0 L992.3 336.0 L993.3 337.1 L994.3 338.0 L995.3 338.9 L996.3 339.7 L997.3 340.4 L998.3 341.1 L999.3 341.7 L1000.3 342.3 L1001.3 342.8 L1002.3 343.2 L1003.3 343.6 L1004.3 343.9 L1005.3 344.1 L1006.3 344.4 L1007.3 344.5 L1008.3 344.6 L1009.3 344.7 L1010.3 344.7 L1011.3 344.7 L1012.3 344.6 L1013.3 344.5 L1014.3 344.3 L1015.3 344.1 L1016.3 343.9 L1017.3 343.6 L1018.3 343.3 L1019.3 342.9 L1020.3 342.5 L1021.3 342.1 L1022.3 341.6 L1023.3 341.1 L1024.3 340.6 L1025.3 340.1 L1026.3 339.5 L1027.3 338.9 L1028.3 338.3 L1029.3 337.6 L1030.3 336.9 L1031.3 336.2 L1032.3 335.5 L1033.3 334.8 L1034.3 334.0 L1035.3 333.2 L1036.3 332.4 L1037.3 331.6 L1038.3 330.8 L1039.3 329.9 L1040.3 329.1 L1041.3 328.2 L1042.3 327.3 L1043.3 326.4 L1044.3 325.6 L1045.3 324.6 L1046.3 323.7 L1047.3 322.8 L1048.3 321.9 L1049.3 321.0 L1050.3 320.0 L1051.3 319.1 L1052.3 318.2 L1053.3 317.2 L1054.3 316.3 L1055.3 315.3 L1056.3 314.4 L1057.3 313.4 L1058.3 312.4 L1059.3 311.5 L1060.3 310.5 L1061.3 309.5 L1062.3 308.6 L1063.3 307.6 L1064.3 306.7 L1065.3 305.7 L1066.3 304.7 L1067.3 303.8 L1068.3 302.8 L1069.3 301.9 L1070.3 300.9 L1071.3 300.0 L1072.3 299.0 L1073.3 298.1 L1074.3 297.1 L1075.3 296.2 L1076.3 295.3 L1077.3 294.3 L1078.3 293.4 L1079.3 292.5 L1080.3 291.6 L1081.3 290.7 L1082.3 289.8 L1083.3 288.9 L1084.3 288.0 L1085.3 287.2 L1086.3 286.3 L1087.3 285.5 L1088.3 284.6 L1089.3 283.8 L1090.3 283.0 L1091.3 282.2 L1092.3 281.4 L1093.3 280.6 L1094.3 279.8 L1095.3 279.0 L1096.3 278.3 L1097.3 277.5 L1098.3 276.8 L1099.3 276.1 L1100.3 275.4 L1101.3 274.7 L1102.3 274.0 L1103.3 273.3 L1104.3 272.6 L1105.3 272.0 L1106.3 271.3 L1107.3 270.7 L1108.3 270.1 L1109.3 269.5 L1110.3 268.9 L1111.3 268.3 L1112.3 267.7 L1113.3 267.2 L1114.3 266.6 L1115.3 266.1 L1116.3 265.5 L1117.3 265.0 L1118.3 264.5 L1119.3 264.0 L1120.3 263.5 L1121.3 263.0 L1122.3 262.6 L1123.3 262.1 L1124.3 261.7 L1125.3 261.2 L1126.3 260.8 L1127.3 260.4 L1128.3 260.0 L1129.3 259.6 L1130.3 259.2 L1131.3 258.8 L1132.3 258.5 L1133.3 258.1 L1134.3 257.8 L1135.3 257.4 L1136.3 257.1 L1137.3 256.8 L1138.3 256.5 L1139.3 256.2 L1140.3 255.9 L1141.3 255.6 L1142.3 255.4 L1143.3 255.1 L1144.3 254.9 L1145.3 254.6 L1146.3 254.4 L1147.3 254.2 L1148.3 254.0 L1149.3 253.8 L1150.3 253.6 L1151.3 253.4 L1152.3 253.2 L1153.3 253.1 L1154.3 252.9 L1155.3 252.8 L1156.3 252.7 L1157.3 252.5 L1158.3 252.4 L1159.3 252.3 L1160.3 252.2 L1161.3 252.1 L1162.3 252.1 L1163.3 252.0 L1164.3 251.9 L1165.3 251.9 L1166.3 251.8 L1167.3 251.8 L1168.3 251.8 L1169.3 251.8 L1170.3 251.8 L1171.3 251.8 L1172.3 251.8 L1173.3 251.8 L1174.3 251.8 L1175.3 251.9 L1176.3 251.9 L1177.3 252.0 L1178.3 252.0 L1179.3 252.1 L1180.3 252.2 L1181.3 252.3 L1182.3 252.4 L1183.3 252.5 L1184.3 252.6 L1185.3 252.7 L1186.3 252.8 L1187.3 253.0 L1188.3 253.1 L1189.3 253.3 L1190.3 253.4 L1191.3 253.6 L1192.3 253.8 L1193.3 254.0 L1194.3 254.2 L1195.3 254.4 L1196.3 254.6 L1197.3 254.8 L1198.3 255.0 L1199.3 255.3 L1200.3 255.5 L1201.3 255.7 L1202.3 256.0 L1203.3 256.3 L1204.3 256.5 L1205.3 256.8 L1206.3 257.1 L1207.3 257.4 L1208.3 257.7 L1209.3 258.0 L1210.3 258.3 L1211.3 258.6 L1212.3 259.0 L1213.3 259.3 L1214.3 259.6 L1215.3 260.0 L1216.3 260.4 L1217.3 260.7 L1218.3 261.1 L1219.3 261.5 L1220.3 261.9 L1221.3 262.2 L1222.3 262.6 L1223.3 263.1 L1224.3 263.5 L1225.3 263.9 L1226.3 264.3 L1227.3 264.7 L1228.3 265.2 L1229.3 265.6 L1230.3 266.1 L1231.3 266.6 L1232.3 267.0 L1233.3 267.5 L1234.3 268.0 L1235.3 268.5 L1236.3 269.0 L1237.3 269.5 L1238.3 270.1 L1239.3 270.6 L1240.3 271.2 L1241.3 271.7 L1242.3 272.3 L1243.3 273.0 L1244.3 273.6 L1245.3 274.2 L1246.3 274.9 L1247.3 275.6 L1248.3 276.3 L1249.3 277.0 L1250.3 277.8 L1251.3 278.5 L1252.3 279.3 L1253.3 280.1 L1254.3 281.0 L1255.3 281.9 L1256.3 282.8 L1257.3 283.7 L1258.3 284.6 L1259.3 285.6 L1260.3 286.6 L1261.3 287.7 L1262.3 288.7 L1263.3 289.8 L1264.3 291.0 L1265.3 292.1 L1266.3 293.3 L1267.3 294.6 L1268.3 295.8 L1269.3 297.2 L1270.3 298.5 L1271.3 299.9 L1272.3 301.3 L1273.3 302.8 L1274.3 304.3 L1275.3 305.8 L1276.3 307.4 L1277.3 309.0 L1278.3 310.7 L1279.3 312.4 L1280.3 314.2 L1281.3 315.9 L1282.3 317.8 L1283.3 319.6 L1284.3 321.5 L1285.3 323.4 L1286.3 325.3 L1287.3 327.3 L1288.3 329.2 L1289.3 331.2 L1290.3 333.2 L1291.3 335.1 L1292.3 337.1 L1293.3 339.0 L1294.3 341.0 L1295.3 342.9 L1296.3 344.8 L1297.3 346.7 L1298.3 348.6 L1299.3 350.4 L1300.3 352.2 L1301.3 353.9 L1302.3 355.7 L1303.3 357.3 L1304.3 359.0 L1305.3 360.5 L1306.3 362.1 L1307.3 363.5 L1308.3 364.9 L1309.3 366.3 L1310.3 367.5 L1311.3 368.7 L1312.3 369.8 L1313.3 370.8 L1314.3 371.8 L1315.3 372.6 L1316.3 373.4 L1317.3 374.0 L1318.3 374.6 L1319.3 375.1 L1320.3 375.4 L1321.3 375.6 L1322.3 375.8 L1323.3 375.8 L1324.3 375.6 L1325.3 375.4 L1326.3 375.0 L1327.3 374.5 L1328.3 373.9 L1329.3 373.1 L1330.3 372.3 L1331.3 371.3 L1332.3 370.2 L1333.3 369.0 L1334.3 367.6 L1335.3 366.2 L1336.3 364.7 L1337.3 363.1 L1338.3 361.3 L1339.3 359.5 L1340.3 357.6 L1341.3 355.6 L1342.3 353.5 L1343.3 351.3 L1344.3 349.1 L1345.3 346.7 L1346.3 344.3 L1347.3 341.9 L1348.3 339.3 L1349.3 336.7 L1350.3 334.0 L1351.3 331.3 L1352.3 328.5 L1353.3 325.6 L1354.3 322.7 L1355.3 319.7 L1356.3 316.7 L1357.3 313.7 L1358.3 310.6 L1359.3 307.4 L1360.3 304.3 L1361.3 301.1 L1362.3 297.9 L1363.3 294.6 L1364.3 291.4 L1365.3 288.2 L1366.3 285.0 L1367.3 281.8 L1368.3 278.6 L1369.3 275.4 L1370.3 272.3 L1371.3 269.2 L1372.3 266.2 L1373.3 263.2 L1374.3 260.3 L1375.3 257.5 L1376.3 254.7 L1377.3 252.0 L1378.3 249.4 L1379.3 246.9 L1380.3 244.5 L1381.3 242.1 L1382.3 239.8 L1383.3 237.5 L1384.3 235.4 L1385.3 233.2 L1386.3 231.2 L1387.3 229.2 L1388.3 227.2 L1389.3 225.4 L1390.3 223.5 L1391.3 221.7 L1392.3 220.0 L1393.3 218.3 L1394.3 216.6 L1395.3 215.0 L1396.3 213.4 L1397.3 211.8 L1398.3 210.3 L1399.3 208.8 L1400.3 207.3 L1401.3 205.9 L1402.3 204.5 L1403.3 203.1 L1404.3 201.7 L1405.3 200.3 L1406.3 199.0 L1407.3 197.6 L1408.3 196.3 L1409.3 195.0 L1410.3 193.8 L1411.3 192.5 L1412.3 191.3 L1413.3 190.1 L1414.3 188.9 L1415.3 187.7 L1416.3 186.6 L1417.3 185.4 L1418.3 184.3 L1419.3 183.2 L1420.3 182.1 L1421.3 181.1 L1422.3 180.1 L1423.3 179.0 L1424.3 178.0 L1425.3 177.1 L1426.3 176.1 L1427.3 175.2 L1428.3 174.2 L1429.3 173.3 L1430.3 172.4 L1431.3 171.6 L1432.3 170.7 L1433.3 169.9 L1434.3 169.1 L1435.3 168.3 L1436.3 167.5 L1437.3 166.8 L1438.3 166.1 L1439.3 165.3 L1440.3 164.6 L1441.3 164.0 L1442.3 163.3 L1443.3 162.7 L1444.3 162.1 L1445.3 161.4 L1446.3 160.9 L1447.3 160.3 L1448.3 159.7 L1449.3 159.2 L1450.3 158.7 L1451.3 158.2 L1452.3 157.6 L1453.3 157.2 L1454.3 156.7 L1455.3 156.2 L1456.3 155.8 L1457.3 155.3 L1458.3 154.9 L1459.3 154.5 L1460.3 154.0 L1461.3 153.6 L1462.3 153.2 L1463.3 152.8 L1464.3 152.4 L1465.3 152.0 L1466.3 151.7 L1467.3 151.3 L1468.3 150.9 L1469.3 150.5 L1470.3 150.2 L1471.3 149.8 L1472.3 149.4 L1472.6 149.3" class="cr2" clip-path="url(#cr)"/>
<path d="M881.8 162.7 L882.8 163.2 L883.8 163.6 L884.8 164.1 L885.8 164.5 L886.8 165.0 L887.8 165.5 L888.8 166.0 L889.8 166.5 L890.8 167.0 L891.8 167.5 L892.8 168.1 L893.8 168.6 L894.8 169.2 L895.8 169.8 L896.8 170.4 L897.8 171.0 L898.8 171.6 L899.8 172.3 L900.8 173.0 L901.8 173.7 L902.8 174.5 L903.8 175.2 L904.8 176.0 L905.8 176.9 L906.8 177.8 L907.8 178.7 L908.8 179.6 L909.8 180.6 L910.8 181.6 L911.8 182.7 L912.8 183.8 L913.8 184.9 L914.8 186.1 L915.8 187.3 L916.8 188.6 L917.8 189.9 L918.8 191.3 L919.8 192.8 L920.8 194.2 L921.8 195.8 L922.8 197.4 L923.8 199.0 L924.8 200.7 L925.8 202.5 L926.8 204.3 L927.8 206.2 L928.8 208.2 L929.8 210.2 L930.8 212.2 L931.8 214.4 L932.8 216.6 L933.8 218.9 L934.8 221.2 L935.8 223.6 L936.8 226.1 L937.8 228.7 L938.8 231.3 L939.8 234.0 L940.8 236.7 L941.8 239.6 L942.8 242.5 L943.8 245.4 L944.8 248.5 L945.8 251.6 L946.8 254.8 L947.8 258.0 L948.8 261.4 L949.8 264.8 L950.8 268.3 L951.8 271.8 L952.8 275.4 L953.8 279.1 L954.8 282.9 L955.8 286.7 L956.8 290.5 L957.8 294.5 L958.8 298.4 L959.8 302.4 L960.8 306.5 L961.8 310.6 L962.8 314.8 L963.8 319.0 L964.8 323.2 L965.8 327.5 L966.8 331.8 L967.8 336.1 L968.8 340.4 L969.8 344.7 L970.8 349.0 L971.8 353.2 L972.8 357.5 L973.8 361.7 L974.8 365.8 L975.8 369.8 L976.8 373.8 L977.8 377.7 L978.8 381.5 L979.8 385.1 L980.8 388.7 L981.8 392.1 L982.8 395.4 L983.8 398.6 L984.8 401.6 L985.8 404.5 L986.8 407.3 L987.8 410.0 L988.8 412.5 L989.8 414.9 L990.8 417.2 L991.8 419.4 L992.8 421.5 L993.8 423.4 L994.8 425.3 L995.8 427.0 L996.8 428.6 L997.8 430.1 L998.8 431.4 L999.8 432.7 L1000.8 433.9 L1001.8 434.9 L1002.8 435.9 L1003.8 436.7 L1004.8 437.5 L1005.8 438.1 L1006.8 438.6 L1007.8 439.1 L1008.8 439.4 L1009.8 439.7 L1010.8 439.8 L1011.8 439.9 L1012.8 439.8 L1013.8 439.7 L1014.8 439.5 L1015.8 439.1 L1016.8 438.7 L1017.8 438.3 L1018.8 437.7 L1019.8 437.1 L1020.8 436.3 L1021.8 435.5 L1022.8 434.7 L1023.8 433.7 L1024.8 432.7 L1025.8 431.6 L1026.8 430.5 L1027.8 429.3 L1028.8 428.0 L1029.8 426.7 L1030.8 425.3 L1031.8 423.8 L1032.8 422.3 L1033.8 420.8 L1034.8 419.2 L1035.8 417.6 L1036.8 415.9 L1037.8 414.1 L1038.8 412.4 L1039.8 410.6 L1040.8 408.7 L1041.8 406.9 L1042.8 405.0 L1043.8 403.0 L1044.8 401.1 L1045.8 399.1 L1046.8 397.1 L1047.8 395.0 L1048.8 393.0 L1049.8 390.9 L1050.8 388.8 L1051.8 386.7 L1052.8 384.6 L1053.8 382.5 L1054.8 380.4 L1055.8 378.2 L1056.8 376.1 L1057.8 374.0 L1058.8 371.8 L1059.8 369.7 L1060.8 367.5 L1061.8 365.4 L1062.8 363.3 L1063.8 361.2 L1064.8 359.0 L1065.8 356.9 L1066.8 354.8 L1067.8 352.8 L1068.8 350.7 L1069.8 348.6 L1070.8 346.6 L1071.8 344.6 L1072.8 342.6 L1073.8 340.6 L1074.8 338.6 L1075.8 336.7 L1076.8 334.8 L1077.8 332.9 L1078.8 331.1 L1079.8 329.3 L1080.8 327.5 L1081.8 325.7 L1082.8 324.0 L1083.8 322.3 L1084.8 320.7 L1085.8 319.1 L1086.8 317.5 L1087.8 315.9 L1088.8 314.4 L1089.8 312.9 L1090.8 311.5 L1091.8 310.1 L1092.8 308.7 L1093.8 307.3 L1094.8 306.0 L1095.8 304.7 L1096.8 303.4 L1097.8 302.2 L1098.8 301.0 L1099.8 299.8 L1100.8 298.6 L1101.8 297.5 L1102.8 296.4 L1103.8 295.3 L1104.8 294.2 L1105.8 293.2 L1106.8 292.2 L1107.8 291.2 L1108.8 290.3 L1109.8 289.3 L1110.8 288.4 L1111.8 287.5 L1112.8 286.7 L1113.8 285.8 L1114.8 285.0 L1115.8 284.2 L1116.8 283.4 L1117.8 282.7 L1118.8 281.9 L1119.8 281.2 L1120.8 280.5 L1121.8 279.8 L1122.8 279.2 L1123.8 278.5 L1124.8 277.9 L1125.8 277.3 L1126.8 276.7 L1127.8 276.1 L1128.8 275.6 L1129.8 275.0 L1130.8 274.5 L1131.8 274.0 L1132.8 273.4 L1133.8 273.0 L1134.8 272.5 L1135.8 272.0 L1136.8 271.6 L1137.8 271.1 L1138.8 270.7 L1139.8 270.3 L1140.8 269.9 L1141.8 269.5 L1142.8 269.1 L1143.8 268.8 L1144.8 268.4 L1145.8 268.1 L1146.8 267.7 L1147.8 267.4 L1148.8 267.1 L1149.8 266.8 L1150.8 266.5 L1151.8 266.3 L1152.8 266.0 L1153.8 265.8 L1154.8 265.5 L1155.8 265.3 L1156.8 265.1 L1157.8 264.9 L1158.8 264.7 L1159.8 264.5 L1160.8 264.3 L1161.8 264.1 L1162.8 264.0 L1163.8 263.8 L1164.8 263.7 L1165.8 263.6 L1166.8 263.4 L1167.8 263.3 L1168.8 263.2 L1169.8 263.1 L1170.8 263.1 L1171.8 263.0 L1172.8 262.9 L1173.8 262.8 L1174.8 262.8 L1175.8 262.7 L1176.8 262.7 L1177.8 262.7 L1178.8 262.7 L1179.8 262.6 L1180.8 262.6 L1181.8 262.6 L1182.8 262.6 L1183.8 262.7 L1184.8 262.7 L1185.8 262.7 L1186.8 262.7 L1187.8 262.8 L1188.8 262.8 L1189.8 262.9 L1190.8 262.9 L1191.8 263.0 L1192.8 263.0 L1193.8 263.1 L1194.8 263.2 L1195.8 263.3 L1196.8 263.4 L1197.8 263.5 L1198.8 263.6 L1199.8 263.7 L1200.8 263.9 L1201.8 264.0 L1202.8 264.2 L1203.8 264.3 L1204.8 264.5 L1205.8 264.6 L1206.8 264.8 L1207.8 265.0 L1208.8 265.2 L1209.8 265.4 L1210.8 265.6 L1211.8 265.8 L1212.8 266.0 L1213.8 266.3 L1214.8 266.5 L1215.8 266.8 L1216.8 267.0 L1217.8 267.3 L1218.8 267.6 L1219.8 267.9 L1220.8 268.2 L1221.8 268.5 L1222.8 268.8 L1223.8 269.2 L1224.8 269.5 L1225.8 269.9 L1226.8 270.2 L1227.8 270.6 L1228.8 271.0 L1229.8 271.4 L1230.8 271.8 L1231.8 272.2 L1232.8 272.6 L1233.8 273.0 L1234.8 273.5 L1235.8 273.9 L1236.8 274.4 L1237.8 274.9 L1238.8 275.4 L1239.8 275.9 L1240.8 276.4 L1241.8 276.9 L1242.8 277.5 L1243.8 278.0 L1244.8 278.6 L1245.8 279.1 L1246.8 279.7 L1247.8 280.3 L1248.8 280.8 L1249.8 281.4 L1250.8 282.0 L1251.8 282.5 L1252.8 283.1 L1253.8 283.6 L1254.8 284.2 L1255.8 284.7 L1256.8 285.3 L1257.8 285.8 L1258.8 286.3 L1259.8 286.8 L1260.8 287.3 L1261.8 287.8 L1262.8 288.3 L1263.8 288.7 L1264.8 289.1 L1265.8 289.5 L1266.8 289.9 L1267.8 290.3 L1268.8 290.6 L1269.8 291.0 L1270.8 291.3 L1271.8 291.5 L1272.8 291.8 L1273.8 292.0 L1274.8 292.2 L1275.8 292.4 L1276.8 292.6 L1277.8 292.7 L1278.8 292.8 L1279.8 292.9 L1280.8 293.0 L1281.8 293.0 L1282.8 293.1 L1283.8 293.1 L1284.8 293.0 L1285.8 293.0 L1286.8 292.9 L1287.8 292.9 L1288.8 292.8 L1289.8 292.7 L1290.8 292.5 L1291.8 292.4 L1292.8 292.3 L1293.8 292.1 L1294.8 291.9 L1295.8 291.8 L1296.8 291.6 L1297.8 291.4 L1298.8 291.2 L1299.8 291.0 L1300.8 290.7 L1301.8 290.5 L1302.8 290.3 L1303.8 290.0 L1304.8 289.8 L1305.8 289.6 L1306.8 289.3 L1307.8 289.1 L1308.8 288.8 L1309.8 288.5 L1310.8 288.3 L1311.8 288.0 L1312.8 287.8 L1313.8 287.5 L1314.8 287.2 L1315.8 287.0 L1316.8 286.7 L1317.8 286.4 L1318.8 286.1 L1319.8 285.9 L1320.8 285.6 L1321.8 285.3 L1322.8 285.0 L1323.8 284.7 L1324.8 284.3 L1325.8 284.0 L1326.8 283.7 L1327.8 283.3 L1328.8 282.9 L1329.8 282.5 L1330.8 282.1 L1331.8 281.7 L1332.8 281.3 L1333.8 280.8 L1334.8 280.4 L1335.8 279.9 L1336.8 279.4 L1337.8 278.8 L1338.8 278.3 L1339.8 277.7 L1340.8 277.1 L1341.8 276.5 L1342.8 275.8 L1343.8 275.1 L1344.8 274.4 L1345.8 273.7 L1346.8 272.9 L1347.8 272.1 L1348.8 271.3 L1349.8 270.4 L1350.8 269.5 L1351.8 268.6 L1352.8 267.6 L1353.8 266.6 L1354.8 265.6 L1355.8 264.5 L1356.8 263.4 L1357.8 262.3 L1358.8 261.1 L1359.8 259.8 L1360.8 258.6 L1361.8 257.2 L1362.8 255.9 L1363.8 254.5 L1364.8 253.0 L1365.8 251.5 L1366.8 249.9 L1367.8 248.3 L1368.8 246.7 L1369.8 245.0 L1370.8 243.3 L1371.8 241.5 L1372.8 239.6 L1373.8 237.8 L1374.8 235.9 L1375.8 234.0 L1376.8 232.0 L1377.8 230.0 L1378.8 228.0 L1379.8 226.0 L1380.8 224.0 L1381.8 221.9 L1382.8 219.9 L1383.8 217.8 L1384.8 215.8 L1385.8 213.7 L1386.8 211.6 L1387.8 209.6 L1388.8 207.5 L1389.8 205.5 L1390.8 203.5 L1391.8 201.5 L1392.8 199.5 L1393.8 197.6 L1394.8 195.7 L1395.8 193.8 L1396.8 192.0 L1397.8 190.1 L1398.8 188.4 L1399.8 186.6 L1400.8 185.0 L1401.8 183.3 L1402.8 181.8 L1403.8 180.2 L1404.8 178.7 L1405.8 177.3 L1406.8 175.9 L1407.8 174.5 L1408.8 173.2 L1409.8 171.9 L1410.8 170.7 L1411.8 169.5 L1412.8 168.4 L1413.8 167.3 L1414.8 166.2 L1415.8 165.1 L1416.8 164.1 L1417.8 163.2 L1418.8 162.2 L1419.8 161.3 L1420.8 160.5 L1421.8 159.6 L1422.8 158.8 L1423.8 158.0 L1424.8 157.3 L1425.8 156.6 L1426.8 155.9 L1427.8 155.2 L1428.8 154.5 L1429.8 153.9 L1430.8 153.3 L1431.8 152.8 L1432.8 152.2 L1433.8 151.7 L1434.8 151.2 L1435.8 150.7 L1436.8 150.2 L1437.8 149.8 L1438.8 149.3 L1439.8 148.9 L1440.8 148.5 L1441.8 148.1 L1442.8 147.7 L1443.8 147.4 L1444.8 147.0 L1445.8 146.7 L1446.8 146.4 L1447.8 146.0 L1448.8 145.7 L1449.8 145.4 L1450.8 145.1 L1451.8 144.8 L1452.8 144.5 L1453.8 144.3 L1454.8 144.0 L1455.8 143.7 L1456.8 143.4 L1457.8 143.1 L1458.8 142.9 L1459.8 142.6 L1460.8 142.3 L1461.8 142.1 L1462.8 141.8 L1463.8 141.5 L1464.8 141.3 L1465.8 141.0 L1466.8 140.7 L1467.8 140.5 L1468.8 140.2 L1469.8 139.9 L1470.8 139.7 L1471.8 139.4 L1472.6 139.2" class="cb" clip-path="url(#cr)"/>
<rect x="875.0" y="110.5" width="10.2" height="10.2" fill="#000"/>
<rect x="938.4" y="146.5" width="10.2" height="10.2" fill="#000"/>
<rect x="994.5" y="205.0" width="10.2" height="10.2" fill="#000"/>
<rect x="1072.7" y="228.8" width="10.2" height="10.2" fill="#000"/>
<rect x="1143.9" y="218.3" width="10.2" height="10.2" fill="#000"/>
<rect x="1212.2" y="218.9" width="10.2" height="10.2" fill="#000"/>
<rect x="1277.4" y="235.1" width="10.2" height="10.2" fill="#000"/>
<rect x="1310.2" y="288.1" width="10.2" height="10.2" fill="#000"/>
<rect x="1324.4" y="344.1" width="10.2" height="10.2" fill="#000"/>
<rect x="1337.6" y="407.1" width="10.2" height="10.2" fill="#000"/>
<rect x="1357.9" y="472.0" width="10.2" height="10.2" fill="#000"/>
<rect x="1378.1" y="409.0" width="10.2" height="10.2" fill="#000"/>
<rect x="1386.4" y="341.9" width="10.2" height="10.2" fill="#000"/>
<rect x="1396.4" y="271.2" width="10.2" height="10.2" fill="#000"/>
<rect x="1417.5" y="203.8" width="10.2" height="10.2" fill="#000"/>
<rect x="1462.4" y="155.4" width="10.2" height="10.2" fill="#000"/>
<circle cx="881.3" cy="144.8" r="5.2" fill="#f00" stroke="#d01010" stroke-width="0.6"/>
<circle cx="928.3" cy="198.5" r="5.2" fill="#f00" stroke="#d01010" stroke-width="0.6"/>
<circle cx="955.9" cy="254.7" r="5.2" fill="#f00" stroke="#d01010" stroke-width="0.6"/>
<circle cx="979.9" cy="317.0" r="5.2" fill="#f00" stroke="#d01010" stroke-width="0.6"/>
<circle cx="1044.8" cy="325.1" r="5.2" fill="#f00" stroke="#d01010" stroke-width="0.6"/>
<circle cx="1093.0" cy="280.8" r="5.2" fill="#f00" stroke="#d01010" stroke-width="0.6"/>
<circle cx="1156.0" cy="252.7" r="5.2" fill="#f00" stroke="#d01010" stroke-width="0.6"/>
<circle cx="1229.0" cy="265.5" r="5.2" fill="#f00" stroke="#d01010" stroke-width="0.6"/>
<circle cx="1278.6" cy="311.2" r="5.2" fill="#f00" stroke="#d01010" stroke-width="0.6"/>
<circle cx="1325.3" cy="375.4" r="5.2" fill="#f00" stroke="#d01010" stroke-width="0.6"/>
<circle cx="1358.1" cy="311.2" r="5.2" fill="#f00" stroke="#d01010" stroke-width="0.6"/>
<circle cx="1376.2" cy="255.0" r="5.2" fill="#f00" stroke="#d01010" stroke-width="0.6"/>
<circle cx="1402.0" cy="204.9" r="5.2" fill="#f00" stroke="#d01010" stroke-width="0.6"/>
<circle cx="1441.4" cy="163.9" r="5.2" fill="#f00" stroke="#d01010" stroke-width="0.6"/>
<path d="M881.8 155.9 L888.2 167.0 L875.4 167.0 Z" fill="#0000f0" stroke="#1a1090" stroke-width="0.6" stroke-linejoin="round"/>
<path d="M927.8 199.4 L934.2 210.5 L921.4 210.5 Z" fill="#0000f0" stroke="#1a1090" stroke-width="0.6" stroke-linejoin="round"/>
<path d="M948.3 252.9 L954.7 264.0 L941.9 264.0 Z" fill="#0000f0" stroke="#1a1090" stroke-width="0.6" stroke-linejoin="round"/>
<path d="M964.8 316.4 L971.2 327.5 L958.4 327.5 Z" fill="#0000f0" stroke="#1a1090" stroke-width="0.6" stroke-linejoin="round"/>
<path d="M980.8 381.9 L987.2 393.0 L974.4 393.0 Z" fill="#0000f0" stroke="#1a1090" stroke-width="0.6" stroke-linejoin="round"/>
<path d="M1013.0 433.0 L1019.4 444.1 L1006.6 444.1 Z" fill="#0000f0" stroke="#1a1090" stroke-width="0.6" stroke-linejoin="round"/>
<path d="M1052.0 379.5 L1058.4 390.6 L1045.6 390.6 Z" fill="#0000f0" stroke="#1a1090" stroke-width="0.6" stroke-linejoin="round"/>
<path d="M1081.7 319.1 L1088.1 330.2 L1075.3 330.2 Z" fill="#0000f0" stroke="#1a1090" stroke-width="0.6" stroke-linejoin="round"/>
<path d="M1132.1 267.0 L1138.5 278.1 L1125.7 278.1 Z" fill="#0000f0" stroke="#1a1090" stroke-width="0.6" stroke-linejoin="round"/>
<path d="M1186.0 255.9 L1192.4 267.0 L1179.6 267.0 Z" fill="#0000f0" stroke="#1a1090" stroke-width="0.6" stroke-linejoin="round"/>
<path d="M1240.4 269.4 L1246.8 280.5 L1234.0 280.5 Z" fill="#0000f0" stroke="#1a1090" stroke-width="0.6" stroke-linejoin="round"/>
<path d="M1313.0 280.9 L1319.4 292.0 L1306.6 292.0 Z" fill="#0000f0" stroke="#1a1090" stroke-width="0.6" stroke-linejoin="round"/>
<path d="M1368.5 240.4 L1374.9 251.5 L1362.1 251.5 Z" fill="#0000f0" stroke="#1a1090" stroke-width="0.6" stroke-linejoin="round"/>
<path d="M1400.3 179.0 L1406.7 190.1 L1393.9 190.1 Z" fill="#0000f0" stroke="#1a1090" stroke-width="0.6" stroke-linejoin="round"/>
<path d="M1455.8 136.9 L1462.2 148.0 L1449.4 148.0 Z" fill="#0000f0" stroke="#1a1090" stroke-width="0.6" stroke-linejoin="round"/>
<rect x="120.0" y="22.8" width="595.6" height="481.1" fill="none" stroke="#000" stroke-width="2.6"/>
<line x1="113.5" y1="22.8" x2="120.0" y2="22.8" class="tk"/>
<line x1="113.5" y1="119.0" x2="120.0" y2="119.0" class="tk"/>
<line x1="113.5" y1="215.2" x2="120.0" y2="215.2" class="tk"/>
<line x1="113.5" y1="311.5" x2="120.0" y2="311.5" class="tk"/>
<line x1="113.5" y1="407.7" x2="120.0" y2="407.7" class="tk"/>
<line x1="113.5" y1="503.9" x2="120.0" y2="503.9" class="tk"/>
<line x1="116.5" y1="70.9" x2="120.0" y2="70.9" class="tk"/>
<line x1="116.5" y1="167.1" x2="120.0" y2="167.1" class="tk"/>
<line x1="116.5" y1="263.3" x2="120.0" y2="263.3" class="tk"/>
<line x1="116.5" y1="359.6" x2="120.0" y2="359.6" class="tk"/>
<line x1="116.5" y1="455.8" x2="120.0" y2="455.8" class="tk"/>
<line x1="120.0" y1="503.9" x2="120.0" y2="509.9" class="tk"/>
<line x1="219.3" y1="503.9" x2="219.3" y2="509.9" class="tk"/>
<line x1="318.5" y1="503.9" x2="318.5" y2="509.9" class="tk"/>
<line x1="417.8" y1="503.9" x2="417.8" y2="509.9" class="tk"/>
<line x1="517.1" y1="503.9" x2="517.1" y2="509.9" class="tk"/>
<line x1="616.3" y1="503.9" x2="616.3" y2="509.9" class="tk"/>
<line x1="715.6" y1="503.9" x2="715.6" y2="509.9" class="tk"/>
<line x1="169.6" y1="503.9" x2="169.6" y2="507.1" class="tk"/>
<line x1="268.9" y1="503.9" x2="268.9" y2="507.1" class="tk"/>
<line x1="368.2" y1="503.9" x2="368.2" y2="507.1" class="tk"/>
<line x1="467.4" y1="503.9" x2="467.4" y2="507.1" class="tk"/>
<line x1="566.7" y1="503.9" x2="566.7" y2="507.1" class="tk"/>
<line x1="666.0" y1="503.9" x2="666.0" y2="507.1" class="tk"/>
<text x="109.5" y="34.6" class="tl" text-anchor="end">0</text>
<text x="109.5" y="130.8" class="tl" text-anchor="end">5</text>
<line x1="70.4" y1="118.3" x2="90.4" y2="118.3" class="mn"/>
<text x="109.5" y="227.0" class="tl" text-anchor="end">10</text>
<line x1="51.7" y1="214.5" x2="71.6" y2="214.5" class="mn"/>
<text x="109.5" y="323.3" class="tl" text-anchor="end">15</text>
<line x1="51.7" y1="310.8" x2="71.6" y2="310.8" class="mn"/>
<text x="109.5" y="419.5" class="tl" text-anchor="end">20</text>
<line x1="51.7" y1="407.0" x2="71.6" y2="407.0" class="mn"/>
<text x="109.5" y="515.7" class="tl" text-anchor="end">25</text>
<line x1="51.7" y1="503.2" x2="71.6" y2="503.2" class="mn"/>
<text x="120.0" y="544.2" class="tl" text-anchor="middle">22</text>
<text x="219.3" y="544.2" class="tl" text-anchor="middle">24</text>
<text x="318.5" y="544.2" class="tl" text-anchor="middle">26</text>
<text x="417.8" y="544.2" class="tl" text-anchor="middle">28</text>
<text x="517.1" y="544.2" class="tl" text-anchor="middle">30</text>
<text x="616.3" y="544.2" class="tl" text-anchor="middle">32</text>
<text x="715.6" y="544.2" class="tl" text-anchor="middle">34</text>
<rect x="877.9" y="22.8" width="594.7" height="480.8" fill="none" stroke="#000" stroke-width="2.6"/>
<line x1="871.4" y1="22.8" x2="877.9" y2="22.8" class="tk"/>
<line x1="871.4" y1="102.9" x2="877.9" y2="102.9" class="tk"/>
<line x1="871.4" y1="183.1" x2="877.9" y2="183.1" class="tk"/>
<line x1="871.4" y1="263.2" x2="877.9" y2="263.2" class="tk"/>
<line x1="871.4" y1="343.3" x2="877.9" y2="343.3" class="tk"/>
<line x1="871.4" y1="423.5" x2="877.9" y2="423.5" class="tk"/>
<line x1="871.4" y1="503.6" x2="877.9" y2="503.6" class="tk"/>
<line x1="874.4" y1="62.9" x2="877.9" y2="62.9" class="tk"/>
<line x1="874.4" y1="143.0" x2="877.9" y2="143.0" class="tk"/>
<line x1="874.4" y1="223.1" x2="877.9" y2="223.1" class="tk"/>
<line x1="874.4" y1="303.3" x2="877.9" y2="303.3" class="tk"/>
<line x1="874.4" y1="383.4" x2="877.9" y2="383.4" class="tk"/>
<line x1="874.4" y1="463.5" x2="877.9" y2="463.5" class="tk"/>
<line x1="877.9" y1="503.6" x2="877.9" y2="509.6" class="tk"/>
<line x1="977.0" y1="503.6" x2="977.0" y2="509.6" class="tk"/>
<line x1="1076.1" y1="503.6" x2="1076.1" y2="509.6" class="tk"/>
<line x1="1175.2" y1="503.6" x2="1175.2" y2="509.6" class="tk"/>
<line x1="1274.4" y1="503.6" x2="1274.4" y2="509.6" class="tk"/>
<line x1="1373.5" y1="503.6" x2="1373.5" y2="509.6" class="tk"/>
<line x1="1472.6" y1="503.6" x2="1472.6" y2="509.6" class="tk"/>
<line x1="927.5" y1="503.6" x2="927.5" y2="506.8" class="tk"/>
<line x1="1026.6" y1="503.6" x2="1026.6" y2="506.8" class="tk"/>
<line x1="1125.7" y1="503.6" x2="1125.7" y2="506.8" class="tk"/>
<line x1="1224.8" y1="503.6" x2="1224.8" y2="506.8" class="tk"/>
<line x1="1323.9" y1="503.6" x2="1323.9" y2="506.8" class="tk"/>
<line x1="1423.0" y1="503.6" x2="1423.0" y2="506.8" class="tk"/>
<text x="867.4" y="34.6" class="tl" text-anchor="end">0</text>
<text x="867.4" y="114.7" class="tl" text-anchor="end">5</text>
<line x1="828.3" y1="102.2" x2="848.3" y2="102.2" class="mn"/>
<text x="867.4" y="194.9" class="tl" text-anchor="end">10</text>
<line x1="809.6" y1="182.4" x2="829.5" y2="182.4" class="mn"/>
<text x="867.4" y="275.0" class="tl" text-anchor="end">15</text>
<line x1="809.6" y1="262.5" x2="829.5" y2="262.5" class="mn"/>
<text x="867.4" y="355.1" class="tl" text-anchor="end">20</text>
<line x1="809.6" y1="342.6" x2="829.5" y2="342.6" class="mn"/>
<text x="867.4" y="435.3" class="tl" text-anchor="end">25</text>
<line x1="809.6" y1="422.8" x2="829.5" y2="422.8" class="mn"/>
<text x="867.4" y="515.4" class="tl" text-anchor="end">30</text>
<line x1="809.6" y1="502.9" x2="829.5" y2="502.9" class="mn"/>
<text x="877.9" y="543.9" class="tl" text-anchor="middle">22</text>
<text x="977.0" y="543.9" class="tl" text-anchor="middle">24</text>
<text x="1076.1" y="543.9" class="tl" text-anchor="middle">26</text>
<text x="1175.2" y="543.9" class="tl" text-anchor="middle">28</text>
<text x="1274.4" y="543.9" class="tl" text-anchor="middle">30</text>
<text x="1373.5" y="543.9" class="tl" text-anchor="middle">32</text>
<text x="1472.6" y="543.9" class="tl" text-anchor="middle">34</text>
<text x="418.3" y="584.6" class="at" text-anchor="middle">Frequency(GHz)</text>
<text x="1175.8" y="584.6" class="at" text-anchor="middle">Frequency(GHz)</text>
<text transform="translate(39.2 263.8) rotate(-90)" class="at" text-anchor="middle">S-Parameter(dB)</text>
<text transform="translate(797.4 264.3) rotate(-90)" class="at" text-anchor="middle">S-Parameter(dB)</text>
<text x="225.6" y="672" class="cs">(a)</text>
<text x="281.6" y="672" class="cap" style="letter-spacing:0" textLength="103" lengthAdjust="spacingAndGlyphs">Effect</text>
<text x="392.7" y="672" class="cap" style="letter-spacing:0" textLength="35.5" lengthAdjust="spacingAndGlyphs">of</text>
<text x="436.9" y="672" class="cap">R</text>
<text x="462.0" y="672" class="sub">1</text>
<text x="487.5" y="672" class="cap" style="letter-spacing:0" textLength="45" lengthAdjust="spacingAndGlyphs">on</text>
<text x="540.8" y="672" class="cap">S</text>
<text x="565.8" y="672" class="sub sub2">11</text>
<text x="969.3" y="672" class="cs">(b)</text>
<text x="1025.4" y="672" class="cap" style="letter-spacing:0" textLength="103" lengthAdjust="spacingAndGlyphs">Effect</text>
<text x="1137.6" y="672" class="cap" style="letter-spacing:0" textLength="35.5" lengthAdjust="spacingAndGlyphs">of</text>
<text x="1182.0" y="672" class="cap">d</text>
<text x="1204.6" y="672" class="sub">3</text>
<text x="1231.0" y="672" class="cap" style="letter-spacing:0" textLength="45" lengthAdjust="spacingAndGlyphs">on</text>
<text x="1284.2" y="672" class="cap">S</text>
<text x="1309.0" y="672" class="sub sub2">11</text>
</svg>
</body></html>
